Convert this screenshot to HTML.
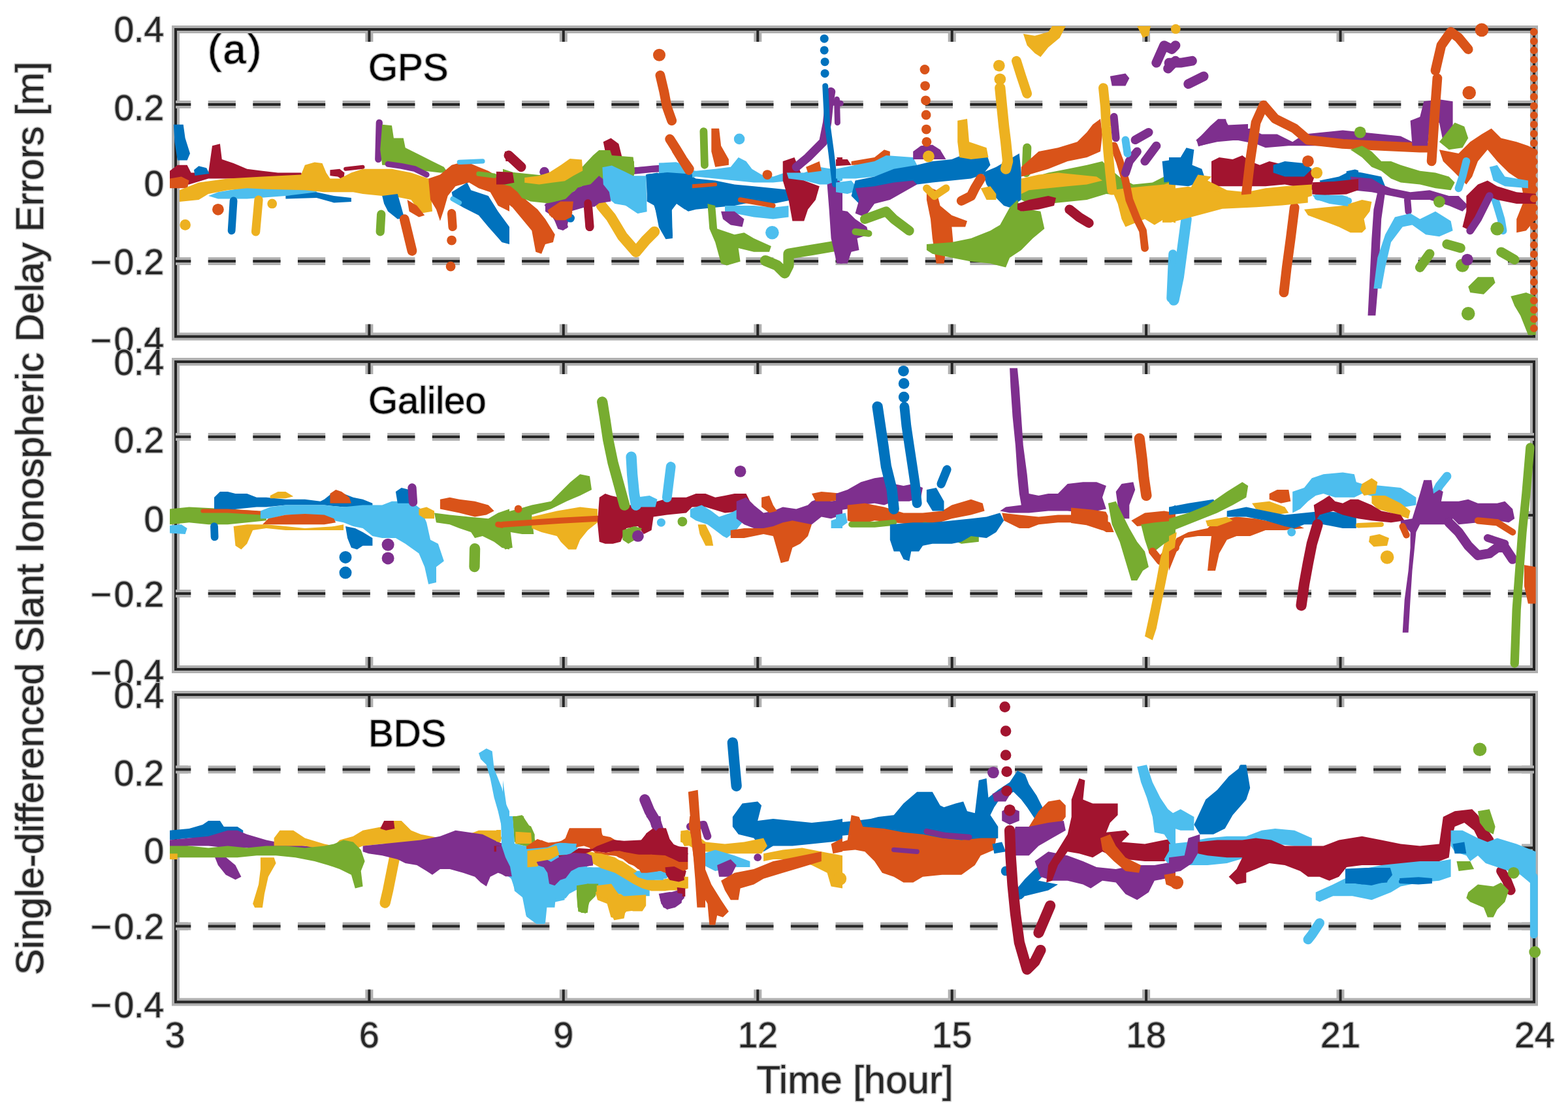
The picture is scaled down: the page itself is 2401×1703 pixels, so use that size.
<!DOCTYPE html>
<html><head><meta charset="utf-8"><title>Single-differenced Slant Ionospheric Delay Errors</title>
<style>
html,body{margin:0;padding:0;background:#fff;width:2401px;height:1703px;overflow:hidden}
svg{display:block}
text{font-family:"Liberation Sans",Arial,Helvetica,sans-serif;paint-order:stroke;stroke:#bdbdbd;stroke-width:3px;stroke-linejoin:round}
.tk{font-size:55px;fill:#262626}
.lb{font-size:60px;fill:#262626}
.pl{font-size:58px;fill:#000}
.pa{font-size:63px;fill:#000;letter-spacing:2.6px}
.yl{letter-spacing:-0.27px}
</style></head><body>
<svg width="2401" height="1703" viewBox="0 0 2401 1703">
<rect width="100%" height="100%" fill="#ffffff"/>
<defs>
<clipPath id="cp0"><rect x="259" y="35" width="2100" height="490.4"/></clipPath>
<clipPath id="cp1"><rect x="259" y="544" width="2100" height="491"/></clipPath>
<clipPath id="cp2"><rect x="259" y="1054" width="2100" height="490.5"/></clipPath>
</defs>
<rect x="269" y="45" width="2080" height="470.4" fill="none" stroke="#b0b0b0" stroke-width="12"/>
<path d="M565.4 45.0L565.4 64.0 M565.4 515.4L565.4 496.4 M862.8 45.0L862.8 64.0 M862.8 515.4L862.8 496.4 M1160.3 45.0L1160.3 64.0 M1160.3 515.4L1160.3 496.4 M1457.7 45.0L1457.7 64.0 M1457.7 515.4L1457.7 496.4 M1755.1 45.0L1755.1 64.0 M1755.1 515.4L1755.1 496.4 M2052.5 45.0L2052.5 64.0 M2052.5 515.4L2052.5 496.4 M269.0 160.0L288.0 160.0 M2349.0 160.0L2330.0 160.0 M269.0 280.0L288.0 280.0 M2349.0 280.0L2330.0 280.0 M269.0 400.0L288.0 400.0 M2349.0 400.0L2330.0 400.0" stroke="#b0b0b0" stroke-width="12" fill="none"/>
<rect x="269" y="45" width="2080" height="470.4" fill="none" stroke="#262626" stroke-width="4"/>
<path d="M565.4 45.0L565.4 64.0 M565.4 515.4L565.4 496.4 M862.8 45.0L862.8 64.0 M862.8 515.4L862.8 496.4 M1160.3 45.0L1160.3 64.0 M1160.3 515.4L1160.3 496.4 M1457.7 45.0L1457.7 64.0 M1457.7 515.4L1457.7 496.4 M1755.1 45.0L1755.1 64.0 M1755.1 515.4L1755.1 496.4 M2052.5 45.0L2052.5 64.0 M2052.5 515.4L2052.5 496.4 M269.0 160.0L288.0 160.0 M2349.0 160.0L2330.0 160.0 M269.0 280.0L288.0 280.0 M2349.0 280.0L2330.0 280.0 M269.0 400.0L288.0 400.0 M2349.0 400.0L2330.0 400.0" stroke="#262626" stroke-width="4" fill="none"/>
<line x1="269" y1="160.0" x2="2349" y2="160.0" stroke="#b0b0b0" stroke-width="12" stroke-dasharray="42.2 26.43" stroke-dashoffset="18.93"/>
<line x1="269" y1="160.0" x2="2349" y2="160.0" stroke="#262626" stroke-width="4" stroke-dasharray="42.2 26.43" stroke-dashoffset="18.93"/>
<line x1="269" y1="400.0" x2="2349" y2="400.0" stroke="#b0b0b0" stroke-width="12" stroke-dasharray="42.2 26.43" stroke-dashoffset="18.93"/>
<line x1="269" y1="400.0" x2="2349" y2="400.0" stroke="#262626" stroke-width="4" stroke-dasharray="42.2 26.43" stroke-dashoffset="18.93"/>
<g clip-path="url(#cp0)"><polygon points="265.9,190.7 280.7,190.7 283.6,211.4 291.0,235.1 286.6,245.4 271.8,245.4 267.4,217.3" fill="#0072BD"/><polygon points="260.0,261.7 271.8,252.8 286.6,252.8 292.5,264.6 298.4,264.6 319.1,264.6 325.0,223.3 336.9,220.3 339.8,243.9 348.7,246.9 357.6,249.9 378.2,258.7 401.9,261.7 425.5,264.6 461.0,264.6 464.0,270.5 425.5,273.5 378.2,273.5 319.1,273.5 289.6,282.4 260.0,285.3" fill="#A2142F"/><polygon points="505.4,260.2 520.1,258.7 527.5,264.6 526.1,276.5 517.2,270.5 505.4,269.1" fill="#A2142F"/><polyline points="529.0,258.7 555.6,255.8" fill="none" stroke="#A2142F" stroke-width="5.9" stroke-linecap="round" stroke-linejoin="round"/><polygon points="759.6,267.6 771.4,264.6 780.0,267.6 780.0,279.4 762.6,279.4" fill="#A2142F"/><polygon points="772.9,232.1 780.0,232.1 780.0,246.9 774.4,246.9" fill="#A2142F"/><polygon points="260.0,273.5 277.7,270.5 289.6,276.5 286.6,288.3 260.0,288.3" fill="#D95319"/><polygon points="297.0,260.2 304.3,254.3 316.2,257.2 320.6,266.1 298.4,269.1" fill="#0072BD"/><polygon points="319.1,300.1 333.9,294.2 378.2,286.8 437.4,288.3 484.7,291.2 484.7,297.1 437.4,300.1 378.2,304.5 333.9,304.5" fill="#4DBEEE"/><polygon points="437.4,300.1 484.7,294.2 511.3,300.1 537.9,303.1 537.9,309.0 511.3,310.4 484.7,303.1 437.4,304.5" fill="#0072BD"/><polygon points="274.8,291.2 304.3,279.4 348.7,273.5 401.9,270.5 461.0,267.6 466.9,252.8 481.7,248.4 493.5,249.9 499.5,264.6 505.4,273.5 520.1,273.5 526.1,270.5 537.9,264.6 555.6,258.7 585.2,258.7 600.0,258.7 629.5,264.6 656.1,273.5 659.1,285.3 662.0,323.7 644.3,326.7 629.5,306.0 600.0,300.1 585.2,300.1 555.6,297.1 540.8,294.2 496.5,294.2 466.9,291.2 407.8,289.8 378.2,288.3 348.7,291.2 319.1,297.1 304.3,306.0 274.8,309.0" fill="#EDB120"/><polyline points="357.6,307.5 354.6,353.3" fill="none" stroke="#0072BD" stroke-width="11.8" stroke-linecap="round" stroke-linejoin="round"/><circle cx="333.9" cy="320.8" r="8.9" fill="#D95319"/><circle cx="283.6" cy="344.4" r="8.3" fill="#EDB120"/><polyline points="396.0,306.0 391.6,354.8" fill="none" stroke="#EDB120" stroke-width="13.3" stroke-linecap="round" stroke-linejoin="round"/><circle cx="416.7" cy="311.9" r="7.4" fill="#EDB120"/><polyline points="580.8,187.8 579.3,243.9" fill="none" stroke="#7E2F8E" stroke-width="10.3" stroke-linecap="round" stroke-linejoin="round"/><polygon points="585.2,190.7 600.0,192.2 602.9,211.4 617.7,211.4 620.7,226.2 644.3,238.0 662.0,246.9 679.8,255.8 685.7,264.6 673.9,264.6 650.2,261.7 629.5,258.7 600.0,252.8 585.2,252.8 582.2,229.2" fill="#77AC30"/><polyline points="594.1,251.3 614.7,254.3 635.4,258.7 653.2,267.6" fill="none" stroke="#7E2F8E" stroke-width="8.9" stroke-linecap="round" stroke-linejoin="round"/><polyline points="583.7,328.2 582.2,354.8" fill="none" stroke="#77AC30" stroke-width="13.3" stroke-linecap="round" stroke-linejoin="round"/><polygon points="585.2,300.1 608.8,297.1 614.7,317.8 619.2,334.1 608.8,335.6 594.1,323.7 588.1,311.9" fill="#0072BD"/><polyline points="619.2,335.6 631.0,384.3" fill="none" stroke="#D95319" stroke-width="14.8" stroke-linecap="round" stroke-linejoin="round"/><polygon points="623.6,306.0 638.4,314.9 650.2,329.7 641.4,332.6 626.6,323.7" fill="#D95319"/><polygon points="656.1,273.5 673.9,267.6 691.6,252.8 712.3,246.9 733.0,255.8 747.8,261.7 762.6,270.5 780.0,270.5 780.0,323.7 762.6,314.9 750.7,294.2 733.0,288.3 718.2,279.4 697.5,285.3 685.7,300.1 679.8,320.8 673.9,338.5 668.0,320.8 659.1,306.0" fill="#D95319"/><polyline points="691.6,326.7 693.1,347.4" fill="none" stroke="#D95319" stroke-width="13.3" stroke-linecap="round" stroke-linejoin="round"/><circle cx="691.6" cy="368.1" r="7.4" fill="#D95319"/><circle cx="690.1" cy="408.0" r="7.4" fill="#D95319"/><polygon points="691.6,294.2 715.3,279.4 721.2,291.2 747.8,300.1 762.6,323.7 780.0,347.4 780.0,374.0 768.5,371.0 747.8,347.4 733.0,329.7 709.3,317.8 694.6,309.0" fill="#0072BD"/><polyline points="703.4,248.4 738.9,246.9" fill="none" stroke="#4DBEEE" stroke-width="7.4" stroke-linecap="round" stroke-linejoin="round"/><polyline points="693.1,304.5 703.4,310.4" fill="none" stroke="#4DBEEE" stroke-width="7.4" stroke-linecap="round" stroke-linejoin="round"/><polyline points="733.0,266.1 756.6,269.1" fill="none" stroke="#77AC30" stroke-width="7.4" stroke-linecap="round" stroke-linejoin="round"/><polygon points="770.0,276.5 787.7,282.4 805.5,306.0 823.2,320.8 835.0,335.6 849.8,359.2 846.9,371.0 835.0,374.0 829.1,388.8 820.3,385.8 814.3,353.3 799.6,335.6 784.8,317.8 770.0,306.0" fill="#D95319"/><polyline points="778.9,238.0 798.1,255.8" fill="none" stroke="#A2142F" stroke-width="14.8" stroke-linecap="round" stroke-linejoin="round"/><polygon points="770.0,269.1 781.8,270.5 781.8,279.4 770.0,280.9" fill="#A2142F"/><polygon points="770.0,258.7 787.7,264.6 814.3,276.5 843.9,282.4 873.5,270.5 903.0,246.9 917.8,232.1 935.5,229.2 953.3,241.0 971.0,246.9 971.0,264.6 959.2,276.5 935.5,264.6 917.8,258.7 903.0,270.5 888.2,288.3 858.7,303.1 829.1,306.0 799.6,300.1 781.8,285.3 770.0,282.4" fill="#77AC30"/><polygon points="814.3,273.5 843.9,267.6 867.6,252.8 882.3,243.9 891.2,249.9 888.2,264.6 867.6,273.5 843.9,279.4 814.3,282.4" fill="#EDB120"/><circle cx="833.6" cy="263.2" r="7.4" fill="#7E2F8E"/><polygon points="835.0,311.9 858.7,303.1 882.3,291.2 903.0,276.5 917.8,267.6 935.5,282.4 935.5,306.0 911.9,311.9 894.2,317.8 873.5,323.7 867.6,350.3 855.7,347.4 843.9,329.7 835.0,323.7" fill="#7E2F8E"/><polygon points="840.9,320.8 852.8,311.9 873.5,309.0 876.4,326.7 858.7,335.6 843.9,332.6" fill="#D95319"/><circle cx="873.5" cy="334.1" r="6.5" fill="#0072BD"/><polyline points="900.1,311.9 903.0,347.4" fill="none" stroke="#A2142F" stroke-width="13.3" stroke-linecap="round" stroke-linejoin="round"/><polygon points="923.7,217.3 935.5,211.4 947.4,220.3 953.3,243.9 935.5,246.9 926.7,232.1" fill="#A2142F"/><polyline points="920.8,314.9 935.5,332.6 953.3,362.2 974.0,385.8 988.8,368.1 1002.1,354.8" fill="none" stroke="#EDB120" stroke-width="16.3" stroke-linecap="round" stroke-linejoin="round"/><polygon points="923.7,258.7 947.4,261.7 965.1,273.5 982.8,270.5 988.8,276.5 988.8,323.7 976.9,326.7 959.2,314.9 941.5,311.9 923.7,297.1" fill="#4DBEEE"/><polyline points="971.0,261.7 1000.6,258.7 1021.3,257.2" fill="none" stroke="#7E2F8E" stroke-width="10.3" stroke-linecap="round" stroke-linejoin="round"/><polygon points="988.8,267.6 1006.5,264.6 1021.3,273.5 1036.1,267.6 1050.8,264.6 1065.6,273.5 1095.2,276.5 1124.7,282.4 1154.3,285.3 1183.9,288.3 1213.4,291.2 1213.4,306.0 1183.9,311.9 1154.3,309.0 1124.7,314.9 1095.2,317.8 1065.6,320.8 1053.8,323.7 1036.1,311.9 1027.2,323.7 1030.1,362.2 1021.3,365.1 1015.4,347.4 1006.5,329.7 1000.6,311.9 991.7,306.0" fill="#0072BD"/><polygon points="1018.3,258.7 1030.1,249.9 1047.9,258.7 1065.6,261.7 1095.2,258.7 1118.8,255.8 1130.7,241.0 1142.5,246.9 1151.4,258.7 1166.1,267.6 1183.9,270.5 1201.6,264.6 1213.4,270.5 1213.4,276.5 1183.9,279.4 1154.3,279.4 1124.7,276.5 1095.2,273.5 1065.6,270.5 1053.8,273.5 1036.1,270.5 1018.3,270.5" fill="#4DBEEE"/><circle cx="1132.1" cy="212.9" r="8.3" fill="#4DBEEE"/><polygon points="1110.0,314.9 1154.3,314.9 1183.9,317.8 1207.5,314.9 1207.5,332.6 1183.9,335.6 1154.3,332.6 1124.7,326.7 1110.0,323.7" fill="#4DBEEE"/><circle cx="1182.4" cy="356.3" r="10.3" fill="#4DBEEE"/><polyline points="1077.4,201.1 1078.9,252.8" fill="none" stroke="#77AC30" stroke-width="11.8" stroke-linecap="round" stroke-linejoin="round"/><polygon points="1089.3,196.7 1101.1,196.7 1104.1,223.3 1115.9,243.9 1115.9,252.8 1095.2,255.8 1089.3,232.1" fill="#D95319"/><polyline points="1059.7,285.3 1095.2,282.4" fill="none" stroke="#D95319" stroke-width="5.9" stroke-linecap="round" stroke-linejoin="round"/><polyline points="1133.6,306.0 1183.9,314.9" fill="none" stroke="#D95319" stroke-width="7.4" stroke-linecap="round" stroke-linejoin="round"/><polygon points="1083.4,311.9 1095.2,314.9 1098.1,350.3 1124.7,359.2 1139.5,356.3 1154.3,365.1 1180.9,376.9 1178.0,385.8 1154.3,385.8 1130.7,379.9 1133.6,400.6 1112.9,406.5 1104.1,403.5 1095.2,371.0 1086.3,350.3" fill="#77AC30"/><polyline points="1172.0,399.1 1189.8,406.5 1201.6,418.3 1207.5,406.5 1207.5,388.8 1243.0,382.9 1278.5,376.9" fill="none" stroke="#77AC30" stroke-width="16.3" stroke-linecap="round" stroke-linejoin="round"/><polygon points="1104.1,323.7 1124.7,323.7 1139.5,335.6 1136.6,347.4 1118.8,344.4 1107.0,335.6" fill="#7E2F8E"/><polygon points="1198.7,246.9 1216.4,241.0 1231.2,276.5 1254.8,285.3 1248.9,306.0 1237.1,320.8 1231.2,338.5 1213.4,338.5 1207.5,306.0 1198.7,276.5" fill="#A2142F"/><polygon points="1281.4,241.0 1290.0,241.0 1290.0,252.8 1282.9,252.8" fill="#A2142F"/><polygon points="1204.6,264.6 1231.2,264.6 1254.8,255.8 1272.6,258.7 1290.0,258.7 1290.0,276.5 1272.6,282.4 1254.8,282.4 1231.2,276.5 1207.5,273.5" fill="#4DBEEE"/><polygon points="1234.1,255.8 1254.8,246.9 1257.8,261.7 1237.1,264.6" fill="#D95319"/><circle cx="1175.0" cy="267.6" r="7.4" fill="#D95319"/><polyline points="1219.3,255.8 1237.1,241.0 1260.7,217.3 1266.6,187.8 1269.6,158.2 1272.6,140.5" fill="none" stroke="#7E2F8E" stroke-width="13.3" stroke-linecap="round" stroke-linejoin="round"/><polygon points="1266.6,282.4 1284.4,276.5 1290.0,282.4 1290.0,403.5 1281.4,403.5 1272.6,365.1 1269.6,320.8" fill="#7E2F8E"/><polyline points="1272.6,156.7 1287.3,158.2" fill="none" stroke="#7E2F8E" stroke-width="8.9" stroke-linecap="round" stroke-linejoin="round"/><circle cx="1262.2" cy="59.2" r="6.5" fill="#0072BD"/><circle cx="1262.2" cy="76.9" r="6.5" fill="#0072BD"/><circle cx="1263.1" cy="94.7" r="6.5" fill="#0072BD"/><circle cx="1263.1" cy="112.4" r="6.5" fill="#0072BD"/><polyline points="1263.7,131.6 1266.6,187.8 1272.6,232.1 1278.5,282.4" fill="none" stroke="#0072BD" stroke-width="8.9" stroke-linecap="round" stroke-linejoin="round"/><circle cx="1009.5" cy="84.3" r="9.5" fill="#D95319"/><polyline points="1010.9,115.4 1016.8,140.5 1021.3,164.1 1028.7,184.8" fill="none" stroke="#D95319" stroke-width="14.8" stroke-linecap="round" stroke-linejoin="round"/><polyline points="1025.7,212.9 1036.1,229.2 1044.9,243.9 1055.3,258.7" fill="none" stroke="#D95319" stroke-width="14.8" stroke-linecap="round" stroke-linejoin="round"/><polygon points="1303.6,246.9 1339.1,241.0 1353.9,229.2 1362.8,232.1 1362.8,246.9 1339.1,252.8 1303.6,252.8" fill="#D95319"/><polygon points="1280.0,243.9 1297.7,243.9 1303.6,252.8 1280.0,254.3" fill="#A2142F"/><polygon points="1280.0,258.7 1309.6,252.8 1339.1,246.9 1356.9,238.0 1398.2,241.0 1404.2,252.8 1368.7,261.7 1339.1,270.5 1309.6,273.5 1280.0,273.5" fill="#4DBEEE"/><polygon points="1280.0,279.4 1303.6,276.5 1315.5,291.2 1297.7,297.1 1280.0,294.2" fill="#4DBEEE"/><polygon points="1309.6,276.5 1339.1,270.5 1368.7,258.7 1404.2,252.8 1427.8,246.9 1457.4,243.9 1486.9,232.1 1510.6,235.1 1516.5,252.8 1504.7,267.6 1486.9,273.5 1457.4,276.5 1427.8,279.4 1404.2,282.4 1383.5,285.3 1353.9,288.3 1333.2,297.1 1315.5,311.9 1303.6,300.1" fill="#0072BD"/><polygon points="1504.7,264.6 1525.4,255.8 1560.8,235.1 1563.8,264.6 1563.8,306.0 1546.1,317.8 1537.2,314.9 1522.4,300.1 1510.6,282.4" fill="#0072BD"/><polygon points="1309.6,288.3 1339.1,285.3 1368.7,279.4 1398.2,276.5 1404.2,282.4 1383.5,294.2 1362.8,306.0 1339.1,311.9 1324.3,332.6 1309.6,326.7 1315.5,306.0" fill="#7E2F8E"/><polygon points="1280.0,320.8 1297.7,323.7 1309.6,335.6 1327.3,347.4 1330.3,359.2 1312.5,365.1 1315.5,382.9 1303.6,385.8 1297.7,403.5 1285.9,403.5 1280.0,379.9" fill="#7E2F8E"/><polyline points="1281.5,152.3 1282.4,187.8" fill="none" stroke="#7E2F8E" stroke-width="8.9" stroke-linecap="round" stroke-linejoin="round"/><polyline points="1324.3,335.6 1356.9,323.7 1368.7,335.6 1392.3,353.3" fill="none" stroke="#77AC30" stroke-width="14.8" stroke-linecap="round" stroke-linejoin="round"/><polyline points="1309.6,354.8 1330.3,357.7" fill="none" stroke="#77AC30" stroke-width="10.3" stroke-linecap="round" stroke-linejoin="round"/><polygon points="1398.2,232.1 1410.1,223.3 1427.8,221.8 1439.6,229.2 1448.5,243.9 1398.2,243.9" fill="#7E2F8E"/><circle cx="1421.9" cy="239.5" r="8.9" fill="#EDB120"/><circle cx="1416.0" cy="106.5" r="7.4" fill="#D95319"/><circle cx="1416.6" cy="131.6" r="7.4" fill="#D95319"/><circle cx="1417.5" cy="153.8" r="7.4" fill="#D95319"/><circle cx="1418.1" cy="176.0" r="7.4" fill="#D95319"/><circle cx="1418.4" cy="198.1" r="7.4" fill="#D95319"/><circle cx="1418.9" cy="217.3" r="7.4" fill="#D95319"/><polygon points="1418.9,285.3 1433.7,291.2 1439.6,314.9 1457.4,329.7 1481.0,338.5 1478.1,347.4 1457.4,347.4 1460.3,379.9 1448.5,382.9 1445.5,403.5 1433.7,403.5 1427.8,365.1 1424.9,335.6 1418.9,306.0" fill="#D95319"/><polyline points="1418.9,288.3 1430.8,300.1 1448.5,288.3" fill="none" stroke="#EDB120" stroke-width="11.8" stroke-linecap="round" stroke-linejoin="round"/><polygon points="1466.2,184.8 1481.0,181.9 1484.0,217.3 1510.6,226.2 1513.5,241.0 1486.9,243.9 1469.2,241.0 1466.2,217.3" fill="#EDB120"/><polyline points="1472.2,307.5 1486.9,300.1 1492.8,288.3 1501.7,273.5" fill="none" stroke="#D95319" stroke-width="14.8" stroke-linecap="round" stroke-linejoin="round"/><polygon points="1501.7,288.3 1516.5,285.3 1525.4,297.1 1525.4,306.0 1510.6,306.0" fill="#EDB120"/><polygon points="1418.9,374.0 1457.4,371.0 1486.9,365.1 1516.5,353.3 1531.3,344.4 1546.1,317.8 1557.9,306.0 1563.8,323.7 1575.6,320.8 1593.4,323.7 1599.3,350.3 1581.5,365.1 1563.8,382.9 1546.1,394.7 1540.1,409.5 1516.5,403.5 1486.9,400.6 1457.4,394.7 1427.8,388.8 1418.9,382.9" fill="#77AC30"/><circle cx="1529.8" cy="100.6" r="8.9" fill="#EDB120"/><circle cx="1531.3" cy="121.3" r="8.9" fill="#EDB120"/><polyline points="1531.3,134.6 1534.2,164.1 1537.2,193.7 1540.1,217.3 1543.1,246.9 1540.1,258.7" fill="none" stroke="#EDB120" stroke-width="16.3" stroke-linecap="round" stroke-linejoin="round"/><polyline points="1556.4,93.2 1563.8,116.8 1572.7,143.4" fill="none" stroke="#EDB120" stroke-width="14.8" stroke-linecap="round" stroke-linejoin="round"/><polygon points="1566.8,51.8 1584.5,54.8 1605.2,48.9 1611.1,40.0 1631.8,40.0 1622.9,57.7 1605.2,72.5 1593.4,87.3 1584.5,81.4 1572.7,69.6" fill="#EDB120"/><polygon points="1741.2,40.0 1761.9,40.0 1758.9,54.8 1750.0,57.7" fill="#EDB120"/><polyline points="1572.7,226.2 1571.2,264.6" fill="none" stroke="#77AC30" stroke-width="13.3" stroke-linecap="round" stroke-linejoin="round"/><polygon points="1563.8,255.8 1590.4,232.1 1620.0,226.2 1649.5,217.3 1664.3,202.6 1673.2,190.7 1685.0,181.9 1688.0,205.5 1685.0,232.1 1664.3,241.0 1634.7,246.9 1605.2,258.7 1575.6,267.6 1563.8,270.5" fill="#D95319"/><polygon points="1563.8,276.5 1605.2,264.6 1634.7,258.7 1664.3,252.8 1688.0,246.9 1699.8,258.7 1717.5,273.5 1735.3,282.4 1764.8,279.4 1782.6,270.5 1800.0,264.6 1800.0,291.2 1782.6,294.2 1753.0,297.1 1723.4,300.1 1693.9,297.1 1664.3,306.0 1634.7,309.0 1605.2,311.9 1575.6,311.9 1563.8,306.0" fill="#77AC30"/><polygon points="1563.8,273.5 1590.4,267.6 1620.0,264.6 1649.5,267.6 1679.1,270.5 1688.0,276.5 1664.3,282.4 1634.7,285.3 1605.2,288.3 1575.6,291.2 1563.8,297.1" fill="#EDB120"/><polygon points="1557.9,311.9 1575.6,306.0 1605.2,300.1 1617.0,303.1 1614.1,314.9 1590.4,320.8 1563.8,323.7 1557.9,320.8" fill="#A2142F"/><polyline points="1637.7,320.8 1652.5,332.6 1667.3,341.5" fill="none" stroke="#A2142F" stroke-width="14.8" stroke-linecap="round" stroke-linejoin="round"/><polygon points="1702.7,291.2 1723.4,288.3 1753.0,285.3 1782.6,282.4 1800.0,276.5 1800.0,341.5 1782.6,335.6 1767.8,344.4 1753.0,335.6 1738.2,341.5 1723.4,347.4 1717.5,335.6 1711.6,311.9" fill="#EDB120"/><polyline points="1705.7,223.3 1714.6,246.9 1723.4,276.5 1729.3,306.0 1741.2,335.6 1750.0,353.3 1753.0,379.9" fill="none" stroke="#D95319" stroke-width="11.8" stroke-linecap="round" stroke-linejoin="round"/><polyline points="1689.4,134.6 1692.4,164.1 1693.9,193.7 1696.8,232.1 1699.8,264.6 1702.7,291.2" fill="none" stroke="#EDB120" stroke-width="14.8" stroke-linecap="round" stroke-linejoin="round"/><polygon points="1699.8,116.8 1723.4,112.4 1729.3,119.8 1723.4,131.6 1702.7,131.6" fill="#7E2F8E"/><polyline points="1770.7,96.2 1782.6,69.6 1794.4,75.5 1800.0,69.6" fill="none" stroke="#7E2F8E" stroke-width="14.8" stroke-linecap="round" stroke-linejoin="round"/><polyline points="1788.5,105.0 1800.0,93.2" fill="none" stroke="#7E2F8E" stroke-width="14.8" stroke-linecap="round" stroke-linejoin="round"/><polyline points="1705.7,178.9 1708.7,211.4" fill="none" stroke="#7E2F8E" stroke-width="11.8" stroke-linecap="round" stroke-linejoin="round"/><polyline points="1738.2,214.4 1758.9,202.6" fill="none" stroke="#7E2F8E" stroke-width="13.3" stroke-linecap="round" stroke-linejoin="round"/><polyline points="1723.4,264.6 1729.3,246.9 1741.2,232.1" fill="none" stroke="#7E2F8E" stroke-width="13.3" stroke-linecap="round" stroke-linejoin="round"/><polyline points="1753.0,246.9 1770.7,223.3" fill="none" stroke="#7E2F8E" stroke-width="13.3" stroke-linecap="round" stroke-linejoin="round"/><polyline points="1723.4,214.4 1726.4,235.1" fill="none" stroke="#4DBEEE" stroke-width="11.8" stroke-linecap="round" stroke-linejoin="round"/><polygon points="1779.6,246.9 1800.0,243.9 1800.0,276.5 1782.6,279.4" fill="#0072BD"/><polyline points="1795.9,388.8 1792.9,456.7" fill="none" stroke="#4DBEEE" stroke-width="13.3" stroke-linecap="round" stroke-linejoin="round"/><polyline points="1790.0,96.2 1807.7,96.2 1825.5,93.2" fill="none" stroke="#7E2F8E" stroke-width="14.8" stroke-linecap="round" stroke-linejoin="round"/><polyline points="1819.6,128.7 1843.2,116.8" fill="none" stroke="#7E2F8E" stroke-width="14.8" stroke-linecap="round" stroke-linejoin="round"/><polygon points="1831.4,214.4 1849.1,199.6 1866.9,184.8 1878.7,187.8 1884.6,199.6 1914.2,196.7 1931.9,205.5 1955.6,205.5 1979.2,217.3 1997.0,205.5 2056.1,199.6 2085.6,202.6 2115.2,205.5 2144.8,208.5 2162.5,217.3 2159.6,223.3 2115.2,223.3 2056.1,223.3 1997.0,223.3 1973.3,223.3 1937.8,226.2 1923.0,220.3 1893.5,214.4 1863.9,217.3 1837.3,223.3" fill="#7E2F8E"/><polygon points="1790.0,241.0 1807.7,241.0 1816.6,226.2 1828.4,229.2 1825.5,252.8 1840.3,258.7 1846.2,276.5 1819.6,285.3 1790.0,282.4" fill="#0072BD"/><polygon points="1855.0,246.9 1866.9,241.0 1887.6,243.9 1902.3,238.0 1914.2,246.9 1929.0,252.8 1943.7,246.9 1967.4,252.8 1997.0,252.8 2014.7,264.6 2008.8,282.4 2026.5,288.3 2056.1,282.4 2070.9,276.5 2067.9,294.2 2026.5,294.2 1997.0,288.3 1967.4,282.4 1937.8,285.3 1908.3,285.3 1878.7,285.3 1855.0,285.3" fill="#A2142F"/><polygon points="1949.6,252.8 1967.4,246.9 1997.0,249.9 2008.8,258.7 1997.0,270.5 1967.4,270.5 1949.6,264.6" fill="#0072BD"/><polygon points="1790.0,300.1 1819.6,294.2 1834.3,267.6 1855.0,270.5 1849.1,276.5 1878.7,291.2 1908.3,294.2 1937.8,288.3 1967.4,285.3 2008.8,282.4 2008.8,300.1 1967.4,311.9 1937.8,311.9 1908.3,317.8 1878.7,317.8 1849.1,320.8 1819.6,329.7 1790.0,335.6" fill="#EDB120"/><polygon points="1997.0,320.8 2026.5,317.8 2056.1,314.9 2085.6,306.0 2100.4,309.0 2097.5,323.7 2088.6,335.6 2091.6,350.3 2085.6,356.3 2067.9,356.3 2050.2,347.4 2026.5,338.5 2002.9,329.7" fill="#EDB120"/><circle cx="2016.2" cy="264.6" r="8.9" fill="#EDB120"/><polyline points="1816.6,335.6 1810.7,379.9 1804.8,424.2 1797.4,459.7" fill="none" stroke="#4DBEEE" stroke-width="16.3" stroke-linecap="round" stroke-linejoin="round"/><polyline points="2017.6,301.6 2064.9,307.5" fill="none" stroke="#4DBEEE" stroke-width="10.3" stroke-linecap="round" stroke-linejoin="round"/><polygon points="2020.6,276.5 2050.2,270.5 2067.9,261.7 2085.6,264.6 2115.2,270.5 2121.1,285.3 2085.6,291.2 2056.1,294.2 2026.5,291.2" fill="#0072BD"/><polyline points="1908.3,297.1 1914.2,246.9 1923.0,187.8 1934.9,161.2 1952.6,181.9 1982.2,196.7 2002.9,214.4 2056.1,220.3 2115.2,223.3 2174.3,226.2 2186.2,226.2" fill="none" stroke="#D95319" stroke-width="14.8" stroke-linecap="round" stroke-linejoin="round"/><polygon points="2067.9,229.2 2085.6,223.3 2100.4,232.1 2115.2,246.9 2130.0,246.9 2144.8,252.8 2174.3,261.7 2198.0,264.6 2218.7,270.5 2227.6,279.4 2221.6,291.2 2198.0,288.3 2174.3,282.4 2144.8,279.4 2130.0,273.5 2115.2,261.7 2100.4,255.8 2085.6,241.0" fill="#77AC30"/><circle cx="2082.7" cy="202.6" r="8.9" fill="#77AC30"/><polygon points="2067.9,270.5 2100.4,273.5 2115.2,282.4 2130.0,288.3 2159.6,294.2 2189.1,291.2 2218.7,300.1 2233.5,300.1 2248.2,314.9 2239.4,323.7 2218.7,314.9 2189.1,306.0 2159.6,306.0 2130.0,300.1 2100.4,294.2 2070.9,291.2" fill="#7E2F8E"/><polygon points="2109.3,294.2 2121.1,294.2 2115.2,335.6 2112.3,394.7 2109.3,447.9 2106.3,483.3 2094.5,483.3 2097.5,424.2 2100.4,365.1 2103.4,320.8" fill="#7E2F8E"/><polyline points="2155.1,306.0 2156.6,323.7" fill="none" stroke="#7E2F8E" stroke-width="10.3" stroke-linecap="round" stroke-linejoin="round"/><polygon points="2159.6,184.8 2174.3,178.9 2180.2,155.3 2203.9,152.3 2224.6,155.3 2224.6,217.3 2209.8,217.3 2203.9,187.8 2189.1,193.7 2186.2,223.3 2162.5,223.3" fill="#7E2F8E"/><polyline points="2200.9,119.8 2198.0,158.2 2195.0,202.6 2192.1,246.9" fill="none" stroke="#D95319" stroke-width="14.8" stroke-linecap="round" stroke-linejoin="round"/><polyline points="2198.0,108.0 2206.9,69.6 2221.6,48.9 2233.5,57.7 2248.2,75.5" fill="none" stroke="#D95319" stroke-width="14.8" stroke-linecap="round" stroke-linejoin="round"/><circle cx="2249.7" cy="142.0" r="10.3" fill="#D95319"/><circle cx="2268.9" cy="45.9" r="10.3" fill="#D95319"/><polygon points="2203.9,217.3 2227.6,187.8 2242.3,193.7 2248.2,211.4 2239.4,226.2 2218.7,229.2" fill="#77AC30"/><polygon points="2203.9,229.2 2233.5,235.1 2251.2,217.3 2268.9,205.5 2283.7,196.7 2298.5,211.4 2322.2,217.3 2339.9,223.3 2351.7,229.2 2351.7,335.6 2336.9,353.3 2322.2,356.3 2322.2,335.6 2334.0,306.0 2328.1,276.5 2310.3,264.6 2292.6,246.9 2277.8,229.2 2263.0,246.9 2254.2,270.5 2245.3,282.4 2227.6,264.6 2209.8,246.9" fill="#D95319"/><circle cx="2203.9" cy="309.0" r="8.9" fill="#77AC30"/><polygon points="2135.9,332.6 2159.6,326.7 2174.3,335.6 2198.0,323.7 2221.6,338.5 2224.6,353.3 2203.9,362.2 2183.2,359.2 2162.5,344.4 2147.7,347.4 2130.0,371.0 2121.1,409.5 2115.2,442.0 2103.4,442.0 2109.3,394.7 2121.1,359.2" fill="#4DBEEE"/><polyline points="2245.3,246.9 2239.4,270.5 2233.5,288.3" fill="none" stroke="#4DBEEE" stroke-width="11.8" stroke-linecap="round" stroke-linejoin="round"/><polygon points="2280.8,255.8 2292.6,252.8 2304.4,270.5 2339.9,276.5 2339.9,288.3 2304.4,285.3 2286.7,276.5" fill="#4DBEEE"/><polyline points="2289.6,306.0 2298.5,335.6 2301.5,353.3" fill="none" stroke="#4DBEEE" stroke-width="11.8" stroke-linecap="round" stroke-linejoin="round"/><polygon points="2245.3,300.1 2263.0,282.4 2277.8,276.5 2292.6,285.3 2322.2,294.2 2351.7,297.1 2351.7,311.9 2322.2,311.9 2292.6,306.0 2277.8,300.1 2268.9,320.8 2257.1,335.6 2251.2,353.3 2239.4,347.4 2245.3,323.7" fill="#A2142F"/><polyline points="2251.2,353.3 2263.0,335.6 2274.9,311.9 2280.8,300.1" fill="none" stroke="#7E2F8E" stroke-width="11.8" stroke-linecap="round" stroke-linejoin="round"/><polyline points="1982.2,317.8 1976.3,365.1 1970.3,409.5 1965.9,447.9" fill="none" stroke="#D95319" stroke-width="14.8" stroke-linecap="round" stroke-linejoin="round"/><circle cx="2002.9" cy="246.9" r="8.9" fill="#D95319"/><polyline points="2174.3,409.5 2189.1,388.8" fill="none" stroke="#77AC30" stroke-width="14.8" stroke-linecap="round" stroke-linejoin="round"/><polyline points="2215.7,374.0 2236.4,379.9" fill="none" stroke="#77AC30" stroke-width="14.8" stroke-linecap="round" stroke-linejoin="round"/><circle cx="2239.4" cy="406.5" r="10.3" fill="#77AC30"/><polygon points="2248.2,439.0 2263.0,424.2 2286.7,424.2 2289.6,433.1 2271.9,450.8 2251.2,447.9" fill="#77AC30"/><circle cx="2248.2" cy="480.4" r="10.3" fill="#77AC30"/><polygon points="2313.3,453.8 2336.9,447.9 2351.7,453.8 2351.7,512.9 2339.9,512.9 2328.1,483.3 2319.2,468.6" fill="#77AC30"/><polyline points="2298.5,385.8 2319.2,397.6" fill="none" stroke="#77AC30" stroke-width="14.8" stroke-linecap="round" stroke-linejoin="round"/><circle cx="2292.6" cy="350.3" r="10.3" fill="#77AC30"/><circle cx="2246.8" cy="397.6" r="8.9" fill="#7E2F8E"/><circle cx="1800.3" cy="44.4" r="7.4" fill="#EDB120"/><circle cx="2348.8" cy="48.9" r="5.9" fill="#D95319"/><circle cx="2348.8" cy="63.1" r="5.9" fill="#D95319"/><circle cx="2348.8" cy="77.2" r="5.9" fill="#D95319"/><circle cx="2348.8" cy="91.4" r="5.9" fill="#D95319"/><circle cx="2348.8" cy="105.6" r="5.9" fill="#D95319"/><circle cx="2348.8" cy="119.8" r="5.9" fill="#D95319"/><circle cx="2348.8" cy="134.0" r="5.9" fill="#D95319"/><circle cx="2348.8" cy="148.2" r="5.9" fill="#D95319"/><circle cx="2348.8" cy="162.4" r="5.9" fill="#D95319"/><circle cx="2348.8" cy="176.6" r="5.9" fill="#D95319"/><circle cx="2348.8" cy="190.7" r="5.9" fill="#D95319"/><circle cx="2348.8" cy="204.9" r="5.9" fill="#D95319"/><circle cx="2348.8" cy="219.1" r="5.9" fill="#D95319"/><circle cx="2348.8" cy="233.3" r="5.9" fill="#D95319"/><circle cx="2348.8" cy="247.5" r="5.9" fill="#D95319"/><circle cx="2348.8" cy="261.7" r="5.9" fill="#D95319"/><circle cx="2348.8" cy="275.9" r="5.9" fill="#D95319"/><circle cx="2348.8" cy="290.0" r="5.9" fill="#D95319"/><circle cx="2348.8" cy="304.2" r="5.9" fill="#D95319"/><circle cx="2348.8" cy="318.4" r="5.9" fill="#D95319"/><circle cx="2348.8" cy="332.6" r="5.9" fill="#D95319"/><circle cx="2348.8" cy="346.8" r="5.9" fill="#D95319"/><circle cx="2348.8" cy="361.0" r="5.9" fill="#D95319"/><circle cx="2348.8" cy="375.2" r="5.9" fill="#D95319"/><circle cx="2348.8" cy="389.4" r="5.9" fill="#D95319"/><circle cx="2348.8" cy="403.5" r="5.9" fill="#D95319"/><circle cx="2348.8" cy="417.7" r="5.9" fill="#D95319"/><circle cx="2348.8" cy="431.9" r="5.9" fill="#D95319"/><circle cx="2348.8" cy="446.1" r="5.9" fill="#D95319"/><circle cx="2348.8" cy="460.3" r="5.9" fill="#D95319"/><circle cx="2348.8" cy="474.5" r="5.9" fill="#D95319"/><circle cx="2348.8" cy="488.7" r="5.9" fill="#D95319"/><circle cx="2348.8" cy="502.9" r="5.9" fill="#D95319"/><polygon points="2009.3,279.2 2042.0,277.9 2068.2,275.3 2080.0,273.9 2080.0,291.0 2061.7,297.5 2028.9,298.8 2009.3,297.5" fill="#A2142F"/><polygon points="2009.3,298.8 2055.1,298.8 2064.3,301.5 2064.3,315.9 2035.5,311.9 2015.8,305.4" fill="#4DBEEE"/><polygon points="2061.7,262.2 2074.8,259.5 2080.0,260.9 2080.0,270.0 2061.7,270.0" fill="#0072BD"/><polygon points="1832.4,215.0 1853.4,192.7 1865.2,182.3 1876.9,182.3 1879.6,191.4 1911.0,190.1 1911.0,215.0 1884.8,215.0 1865.2,209.8 1858.6,217.6 1835.0,224.2" fill="#7E2F8E"/><polygon points="1780.0,291.0 1819.3,285.7 1845.5,291.0 1897.9,298.8 1924.1,296.2 1989.6,285.7 2002.7,291.0 2002.7,310.6 1963.4,314.6 1924.1,317.2 1871.7,319.8 1832.4,330.3 1793.1,340.7 1780.0,340.7" fill="#EDB120"/><polygon points="760.0,262.7 784.9,264.1 787.5,279.8 773.1,282.4 760.0,282.4" fill="#A2142F"/><polygon points="786.2,264.1 825.5,268.0 858.3,262.7 891.0,256.2 908.0,237.9 917.2,230.0 934.2,230.0 936.9,237.9 969.6,240.5 972.2,262.7 969.6,273.2 930.3,269.3 917.2,279.8 891.0,285.0 877.9,292.9 864.8,306.0 838.6,311.2 812.4,308.6 799.3,303.3 788.8,288.9" fill="#77AC30"/><polygon points="803.2,271.9 825.5,269.3 841.2,264.1 859.6,252.3 872.7,243.1 891.0,244.4 892.3,261.4 877.9,269.3 864.8,277.2 845.2,279.8 825.5,282.4 803.2,279.8" fill="#EDB120"/><polygon points="833.4,313.8 851.7,308.6 871.4,303.3 884.5,287.6 904.1,282.4 917.2,269.3 930.3,279.8 935.5,308.6 917.2,311.2 910.7,316.4 877.9,319.1 871.4,311.2 859.6,313.8 851.7,321.7 838.6,321.7" fill="#7E2F8E"/><polygon points="838.6,321.7 858.3,308.6 877.9,308.6 875.3,332.2 864.8,337.4 851.7,337.4 841.2,329.5" fill="#D95319"/><polygon points="849.1,337.4 867.4,337.4 870.0,347.9 862.2,353.1 854.3,350.5" fill="#7E2F8E"/><polygon points="922.4,256.2 936.9,253.6 956.5,262.7 969.6,269.3 989.3,269.3 990.6,324.3 976.2,326.9 956.5,313.8 940.8,311.2 934.2,295.5 923.8,282.4" fill="#4DBEEE"/><polygon points="972.2,256.2 1022.0,253.6 1060.0,256.2 1060.0,262.7 972.2,264.1" fill="#7E2F8E"/><polygon points="1008.9,249.6 1035.1,248.3 1060.0,256.2 1060.0,279.8 1022.0,279.8 1008.9,269.3" fill="#4DBEEE"/><polygon points="990.6,266.7 1022.0,264.1 1060.0,266.7 1060.0,321.7 1048.2,320.4 1035.1,311.2 1028.6,313.8 1029.9,364.9 1019.4,366.2 1008.9,347.9 1002.4,315.1 990.6,308.6" fill="#0072BD"/><polyline points="900.2,311.2 902.8,347.9" fill="none" stroke="#A2142F" stroke-width="11.8" stroke-linecap="round" stroke-linejoin="round"/><polyline points="1035.1,230.0 1054.8,261.4" fill="none" stroke="#D95319" stroke-width="13.1" stroke-linecap="round" stroke-linejoin="round"/></g>
<text x="251" y="64.2" text-anchor="end" class="tk">0.4</text>
<text x="251" y="184.2" text-anchor="end" class="tk">0.2</text>
<text x="251" y="299.7" text-anchor="end" class="tk">0</text>
<text x="251" y="419.7" text-anchor="end" class="tk"><tspan>−</tspan><tspan dx="4">0.2</tspan></text>
<text x="251" y="539.7" text-anchor="end" class="tk"><tspan>−</tspan><tspan dx="4">0.4</tspan></text>
<rect x="269" y="554" width="2080" height="471" fill="none" stroke="#b0b0b0" stroke-width="12"/>
<path d="M565.4 554.0L565.4 573.0 M565.4 1025.0L565.4 1006.0 M862.8 554.0L862.8 573.0 M862.8 1025.0L862.8 1006.0 M1160.3 554.0L1160.3 573.0 M1160.3 1025.0L1160.3 1006.0 M1457.7 554.0L1457.7 573.0 M1457.7 1025.0L1457.7 1006.0 M1755.1 554.0L1755.1 573.0 M1755.1 1025.0L1755.1 1006.0 M2052.5 554.0L2052.5 573.0 M2052.5 1025.0L2052.5 1006.0 M269.0 669.0L288.0 669.0 M2349.0 669.0L2330.0 669.0 M269.0 789.0L288.0 789.0 M2349.0 789.0L2330.0 789.0 M269.0 909.0L288.0 909.0 M2349.0 909.0L2330.0 909.0" stroke="#b0b0b0" stroke-width="12" fill="none"/>
<rect x="269" y="554" width="2080" height="471" fill="none" stroke="#262626" stroke-width="4"/>
<path d="M565.4 554.0L565.4 573.0 M565.4 1025.0L565.4 1006.0 M862.8 554.0L862.8 573.0 M862.8 1025.0L862.8 1006.0 M1160.3 554.0L1160.3 573.0 M1160.3 1025.0L1160.3 1006.0 M1457.7 554.0L1457.7 573.0 M1457.7 1025.0L1457.7 1006.0 M1755.1 554.0L1755.1 573.0 M1755.1 1025.0L1755.1 1006.0 M2052.5 554.0L2052.5 573.0 M2052.5 1025.0L2052.5 1006.0 M269.0 669.0L288.0 669.0 M2349.0 669.0L2330.0 669.0 M269.0 789.0L288.0 789.0 M2349.0 789.0L2330.0 789.0 M269.0 909.0L288.0 909.0 M2349.0 909.0L2330.0 909.0" stroke="#262626" stroke-width="4" fill="none"/>
<line x1="269" y1="669.0" x2="2349" y2="669.0" stroke="#b0b0b0" stroke-width="12" stroke-dasharray="42.2 26.43" stroke-dashoffset="18.93"/>
<line x1="269" y1="669.0" x2="2349" y2="669.0" stroke="#262626" stroke-width="4" stroke-dasharray="42.2 26.43" stroke-dashoffset="18.93"/>
<line x1="269" y1="909.0" x2="2349" y2="909.0" stroke="#b0b0b0" stroke-width="12" stroke-dasharray="42.2 26.43" stroke-dashoffset="18.93"/>
<line x1="269" y1="909.0" x2="2349" y2="909.0" stroke="#262626" stroke-width="4" stroke-dasharray="42.2 26.43" stroke-dashoffset="18.93"/>
<g clip-path="url(#cp1)"><polygon points="260.0,779.5 289.6,776.6 319.1,778.1 348.7,779.5 393.0,782.5 407.8,785.5 407.8,797.3 378.2,800.2 348.7,803.2 319.1,803.2 289.6,800.2 260.0,803.2" fill="#77AC30"/><polygon points="260.0,804.7 277.7,803.2 286.6,809.1 283.6,818.0 260.0,816.5" fill="#4DBEEE"/><polygon points="328.0,761.8 336.9,752.9 348.7,752.9 360.5,755.9 378.2,755.9 393.0,761.8 407.8,761.8 437.4,764.8 466.9,764.8 490.6,767.7 496.5,764.8 511.3,752.9 526.1,755.9 540.8,761.8 555.6,764.8 570.4,770.7 570.4,776.6 526.1,776.6 496.5,773.6 466.9,773.6 437.4,773.6 407.8,776.6 393.0,776.6 363.5,779.5 342.8,782.5 328.0,782.5" fill="#0072BD"/><polyline points="328.0,806.1 328.6,822.4" fill="none" stroke="#0072BD" stroke-width="11.8" stroke-linecap="round" stroke-linejoin="round"/><polyline points="310.3,782.5 348.7,782.5 398.9,785.5" fill="none" stroke="#D95319" stroke-width="5.9" stroke-linecap="round" stroke-linejoin="round"/><polygon points="413.7,758.9 425.5,752.9 437.4,752.9 449.2,760.3 437.4,763.3 413.7,763.3" fill="#EDB120"/><polygon points="398.9,782.5 413.7,776.6 437.4,773.6 466.9,773.6 496.5,773.6 526.1,776.6 555.6,773.6 585.2,773.6 600.0,767.7 629.5,767.7 644.3,779.5 653.2,800.2 659.1,826.8 670.9,832.7 679.8,859.3 668.0,868.2 668.0,891.9 656.1,894.8 650.2,868.2 641.4,847.5 620.7,832.7 605.9,823.9 585.2,823.9 570.4,820.9 555.6,809.1 540.8,806.1 526.1,800.2 511.3,797.3 496.5,794.3 466.9,788.4 437.4,788.4 413.7,794.3 398.9,794.3" fill="#4DBEEE"/><polygon points="410.8,794.3 437.4,788.4 466.9,786.9 496.5,788.4 511.3,794.3 514.2,800.2 496.5,803.2 466.9,803.2 437.4,803.2 413.7,803.2 401.9,803.2" fill="#D95319"/><polygon points="505.4,755.9 514.2,750.0 523.1,752.9 534.9,761.8 537.9,770.7 505.4,770.7" fill="#D95319"/><polygon points="357.6,806.1 378.2,803.2 407.8,803.2 437.4,806.1 466.9,809.1 511.3,806.1 526.1,803.2 526.1,812.1 496.5,812.1 466.9,812.1 437.4,812.1 407.8,809.1 387.1,812.1 378.2,832.7 369.4,841.6 360.5,835.7" fill="#EDB120"/><polygon points="529.0,806.1 543.8,809.1 555.6,815.0 570.4,823.9 570.4,835.7 555.6,835.7 546.8,841.6 537.9,838.7 532.0,823.9" fill="#0072BD"/><circle cx="529.0" cy="853.4" r="9.5" fill="#0072BD"/><circle cx="529.0" cy="877.1" r="9.5" fill="#0072BD"/><circle cx="594.1" cy="834.2" r="9.5" fill="#7E2F8E"/><circle cx="594.1" cy="854.9" r="9.5" fill="#7E2F8E"/><polygon points="605.9,752.9 614.7,747.0 626.6,750.0 629.5,770.7 608.8,770.7" fill="#0072BD"/><polyline points="631.0,747.0 632.5,769.2" fill="none" stroke="#7E2F8E" stroke-width="13.3" stroke-linecap="round" stroke-linejoin="round"/><polygon points="641.4,779.5 653.2,776.6 665.0,782.5 665.0,794.3 650.2,794.3 641.4,788.4" fill="#EDB120"/><polygon points="665.0,785.5 688.7,788.4 718.2,791.4 747.8,794.3 762.6,785.5 780.0,779.5 780.0,841.6 768.5,838.7 756.6,829.8 738.9,820.9 727.1,823.9 721.2,815.0 703.4,809.1 688.7,803.2 668.0,800.2" fill="#77AC30"/><polyline points="727.1,840.1 726.5,868.2" fill="none" stroke="#77AC30" stroke-width="16.3" stroke-linecap="round" stroke-linejoin="round"/><polygon points="673.9,764.8 688.7,761.8 703.4,764.8 727.1,767.7 747.8,773.6 756.6,782.5 744.8,788.4 727.1,791.4 703.4,785.5 688.7,782.5 673.9,779.5" fill="#D95319"/><polyline points="762.6,803.2 780.0,806.1" fill="none" stroke="#D95319" stroke-width="8.9" stroke-linecap="round" stroke-linejoin="round"/><polygon points="770.0,785.5 793.6,779.5 814.3,773.6 843.9,767.7 858.7,752.9 873.5,738.2 888.2,726.3 903.0,729.3 906.0,750.0 888.2,758.9 867.6,767.7 843.9,779.5 814.3,788.4 817.3,818.0 799.6,818.0 781.8,815.0 784.8,838.7 773.0,841.6 770.0,826.8" fill="#77AC30"/><polygon points="814.3,791.4 852.8,782.5 888.2,776.6 914.9,779.5 914.9,800.2 900.1,812.1 888.2,826.8 882.3,841.6 870.5,841.6 858.7,829.8 852.8,820.9 829.1,815.0 814.3,809.1" fill="#EDB120"/><polyline points="770.0,803.2 814.3,800.2 858.7,797.3 914.9,794.3" fill="none" stroke="#D95319" stroke-width="8.9" stroke-linecap="round" stroke-linejoin="round"/><circle cx="793.6" cy="779.5" r="5.9" fill="#D95319"/><polygon points="917.8,761.8 926.7,755.9 935.5,758.9 947.4,761.8 962.2,773.6 976.9,773.6 1006.5,767.7 1027.2,761.8 1050.8,761.8 1065.6,755.9 1080.4,755.9 1095.2,761.8 1110.0,758.9 1124.7,755.9 1142.5,755.9 1148.4,767.7 1154.3,773.6 1139.5,782.5 1110.0,785.5 1080.4,776.6 1059.7,776.6 1050.8,785.5 1021.3,788.4 1000.6,791.4 997.6,812.1 985.8,818.0 976.9,806.1 959.2,809.1 950.3,829.8 938.5,832.7 926.7,832.7 917.8,829.8 914.9,800.2" fill="#A2142F"/><polyline points="922.2,615.5 926.7,643.6 931.1,673.1 938.5,708.6 947.4,741.1 956.2,773.6" fill="none" stroke="#77AC30" stroke-width="16.3" stroke-linecap="round" stroke-linejoin="round"/><polyline points="966.6,699.7 968.1,726.3 971.0,755.9 974.0,773.6" fill="none" stroke="#4DBEEE" stroke-width="16.3" stroke-linecap="round" stroke-linejoin="round"/><polyline points="1027.2,714.5 1024.2,738.2 1021.3,761.8" fill="none" stroke="#4DBEEE" stroke-width="14.8" stroke-linecap="round" stroke-linejoin="round"/><polygon points="974.0,761.8 994.7,758.9 1006.5,764.8 1003.5,776.6 976.9,776.6" fill="#4DBEEE"/><circle cx="1012.4" cy="800.2" r="6.5" fill="#4DBEEE"/><polygon points="953.3,812.1 971.0,806.1 982.8,809.1 976.9,823.9 962.2,832.7 953.3,826.8" fill="#77AC30"/><circle cx="1044.9" cy="798.8" r="7.4" fill="#77AC30"/><circle cx="976.9" cy="820.9" r="8.9" fill="#7E2F8E"/><polygon points="1056.8,779.5 1074.5,773.6 1089.3,782.5 1101.1,791.4 1118.8,785.5 1130.7,779.5 1136.6,800.2 1124.7,815.0 1112.9,823.9 1107.0,820.9 1095.2,812.1 1083.4,803.2 1065.6,797.3 1056.8,791.4" fill="#4DBEEE"/><polygon points="1068.6,803.2 1080.4,803.2 1089.3,820.9 1092.2,835.7 1080.4,835.7 1071.5,818.0" fill="#EDB120"/><polygon points="1127.7,767.7 1142.5,761.8 1154.3,773.6 1169.1,785.5 1183.9,782.5 1198.7,776.6 1219.3,779.5 1237.1,773.6 1243.0,767.7 1257.8,761.8 1272.6,767.7 1290.0,764.8 1290.0,788.4 1272.6,794.3 1257.8,791.4 1243.0,803.2 1228.2,803.2 1213.4,803.2 1198.7,806.1 1183.9,809.1 1169.1,815.0 1154.3,809.1 1139.5,803.2 1127.7,794.3" fill="#7E2F8E"/><polygon points="1243.0,755.9 1257.8,752.9 1290.0,755.9 1290.0,764.8 1272.6,767.7 1248.9,767.7" fill="#D95319"/><polygon points="1166.1,761.8 1178.0,758.9 1183.9,773.6 1189.8,782.5 1178.0,785.5 1166.1,776.6" fill="#D95319"/><polygon points="1118.8,812.1 1139.5,809.1 1169.1,809.1 1183.9,806.1 1198.7,800.2 1213.4,797.3 1228.2,800.2 1243.0,803.2 1237.1,820.9 1225.3,832.7 1213.4,838.7 1207.5,859.3 1195.7,862.3 1189.8,841.6 1183.9,820.9 1169.1,818.0 1139.5,823.9 1118.8,823.9" fill="#D95319"/><circle cx="1133.6" cy="721.9" r="8.9" fill="#7E2F8E"/><polygon points="1272.6,797.3 1290.0,791.4 1290.0,809.1 1272.6,809.1" fill="#4DBEEE"/><polygon points="1280.0,755.9 1297.7,750.0 1318.4,738.2 1339.1,732.3 1359.8,729.3 1368.7,741.1 1383.5,744.1 1398.2,741.1 1413.0,747.0 1410.1,761.8 1392.3,767.7 1368.7,767.7 1353.9,773.6 1339.1,770.7 1315.5,773.6 1297.7,779.5 1280.0,782.5" fill="#7E2F8E"/><polygon points="1280.0,788.4 1294.8,785.5 1297.7,800.2 1285.9,809.1 1280.0,809.1" fill="#4DBEEE"/><polygon points="1297.7,773.6 1324.3,770.7 1353.9,776.6 1383.5,785.5 1413.0,785.5 1442.6,782.5 1457.4,773.6 1486.9,764.8 1504.7,770.7 1507.6,782.5 1486.9,788.4 1457.4,794.3 1427.8,803.2 1398.2,803.2 1368.7,800.2 1339.1,797.3 1315.5,803.2 1297.7,797.3" fill="#D95319"/><polyline points="1303.6,803.2 1339.1,803.2 1368.7,800.2" fill="none" stroke="#77AC30" stroke-width="8.9" stroke-linecap="round" stroke-linejoin="round"/><polygon points="1457.4,826.8 1481.0,812.1 1498.8,815.0 1498.8,829.8 1472.2,832.7" fill="#77AC30"/><polyline points="1416.0,803.2 1463.3,809.1" fill="none" stroke="#77AC30" stroke-width="7.4" stroke-linecap="round" stroke-linejoin="round"/><polyline points="1343.6,622.9 1348.0,652.4 1352.4,682.0 1356.9,714.5 1365.7,750.0 1368.7,779.5" fill="none" stroke="#0072BD" stroke-width="16.3" stroke-linecap="round" stroke-linejoin="round"/><circle cx="1383.5" cy="568.2" r="8.3" fill="#0072BD"/><circle cx="1384.1" cy="587.4" r="8.3" fill="#0072BD"/><circle cx="1384.1" cy="608.1" r="8.3" fill="#0072BD"/><polyline points="1384.9,622.9 1387.9,652.4 1392.3,682.0 1396.8,711.6 1401.2,741.1 1404.2,770.7" fill="none" stroke="#0072BD" stroke-width="14.8" stroke-linecap="round" stroke-linejoin="round"/><polyline points="1450.0,719.0 1441.1,741.1" fill="none" stroke="#0072BD" stroke-width="13.3" stroke-linecap="round" stroke-linejoin="round"/><polygon points="1418.9,750.0 1433.7,747.0 1445.5,767.7 1445.5,782.5 1427.8,782.5 1418.9,767.7" fill="#0072BD"/><polygon points="1362.8,803.2 1398.2,800.2 1427.8,800.2 1457.4,797.3 1486.9,794.3 1510.6,791.4 1531.3,785.5 1537.2,797.3 1525.4,815.0 1510.6,823.9 1486.9,820.9 1472.2,829.8 1457.4,832.7 1427.8,832.7 1413.0,835.7 1407.1,844.6 1395.3,844.6 1392.3,859.3 1383.5,856.4 1377.6,844.6 1368.7,844.6 1362.8,826.8" fill="#0072BD"/><polygon points="1546.1,563.8 1557.9,563.8 1560.8,593.3 1563.8,637.7 1566.8,682.0 1572.7,726.3 1575.6,755.9 1590.4,758.9 1605.2,755.9 1620.0,755.9 1634.7,741.1 1658.4,738.2 1679.1,738.2 1693.9,744.1 1688.0,761.8 1693.9,779.5 1679.1,782.5 1664.3,785.5 1634.7,782.5 1605.2,782.5 1575.6,785.5 1546.1,785.5 1531.3,782.5 1540.1,776.6 1563.8,773.6 1560.8,755.9 1557.9,726.3 1554.9,682.0 1550.5,637.7 1547.5,593.3" fill="#7E2F8E"/><polygon points="1708.7,752.9 1717.5,741.1 1735.3,738.2 1738.2,750.0 1729.3,773.6 1729.3,794.3 1717.5,794.3 1711.6,773.6" fill="#7E2F8E"/><polygon points="1534.2,785.5 1560.8,788.4 1590.4,791.4 1620.0,788.4 1649.5,788.4 1679.1,791.4 1699.8,800.2 1705.7,815.0 1693.9,815.0 1679.1,806.1 1649.5,800.2 1620.0,800.2 1590.4,803.2 1575.6,809.1 1560.8,809.1 1537.2,797.3" fill="#D95319"/><polyline points="1744.7,671.7 1748.6,702.7 1751.5,732.3 1755.4,758.9" fill="none" stroke="#D95319" stroke-width="16.3" stroke-linecap="round" stroke-linejoin="round"/><polygon points="1732.3,797.3 1753.0,785.5 1782.6,782.5 1800.0,785.5 1800.0,800.2 1767.8,803.2 1741.2,806.1" fill="#D95319"/><polygon points="1696.8,770.7 1708.7,767.7 1717.5,785.5 1729.3,809.1 1741.2,829.8 1753.0,844.6 1758.9,868.2 1750.0,874.1 1741.2,888.9 1732.3,888.9 1723.4,859.3 1714.6,829.8 1702.7,803.2" fill="#77AC30"/><polygon points="1747.1,803.2 1767.8,800.2 1800.0,797.3 1800.0,832.7 1782.6,832.7 1767.8,844.6 1758.9,844.6 1753.0,826.8" fill="#77AC30"/><polyline points="1764.8,844.6 1776.6,859.3 1788.5,844.6 1800.0,838.7" fill="none" stroke="#D95319" stroke-width="11.8" stroke-linecap="round" stroke-linejoin="round"/><polygon points="1782.6,832.7 1797.3,823.9 1800.0,832.7 1788.5,874.1 1779.6,918.5 1770.7,962.8 1764.8,980.5 1753.0,974.6 1761.9,933.2 1770.7,888.9 1776.6,856.4" fill="#EDB120"/><polygon points="1794.4,776.6 1800.0,773.6 1800.0,785.5 1795.9,785.5" fill="#0072BD"/><polygon points="1790.0,776.6 1819.6,770.7 1858.0,764.8 1863.9,773.6 1849.1,782.5 1819.6,785.5 1790.0,788.4" fill="#0072BD"/><polygon points="1790.0,844.6 1801.8,823.9 1819.6,815.0 1849.1,809.1 1861.0,797.3 1893.5,791.4 1923.0,794.3 1952.6,800.2 1973.3,806.1 1991.0,806.1 1997.0,809.1 1967.4,812.1 1937.8,812.1 1914.2,820.9 1893.5,820.9 1878.7,826.8 1866.9,847.5 1861.0,874.1 1849.1,874.1 1852.1,844.6 1855.0,820.9 1834.3,820.9 1813.7,823.9 1801.8,844.6 1790.0,874.1" fill="#D95319"/><polygon points="1790.0,794.3 1819.6,785.5 1849.1,773.6 1878.7,752.9 1902.3,738.2 1911.2,744.1 1908.3,761.8 1887.6,773.6 1863.9,785.5 1834.3,797.3 1804.8,809.1 1790.0,815.0" fill="#77AC30"/><polygon points="1790.0,820.9 1801.8,815.0 1798.9,838.7 1790.0,844.6" fill="#EDB120"/><polygon points="1846.2,797.3 1878.7,791.4 1887.6,797.3 1863.9,806.1 1849.1,806.1" fill="#EDB120"/><polygon points="1917.1,770.7 1943.7,767.7 1967.4,776.6 1973.3,785.5 1952.6,788.4 1923.0,779.5" fill="#EDB120"/><polygon points="1943.7,755.9 1955.6,750.0 1973.3,750.0 1976.3,767.7 1961.5,770.7 1943.7,764.8" fill="#D95319"/><polygon points="1878.7,782.5 1908.3,776.6 1937.8,782.5 1967.4,788.4 1997.0,785.5 2026.5,782.5 2056.1,785.5 2076.8,788.4 2076.8,809.1 2056.1,809.1 2026.5,803.2 1997.0,803.2 1982.2,809.1 1967.4,806.1 1937.8,797.3 1908.3,791.4 1878.7,791.4" fill="#0072BD"/><polygon points="1979.2,752.9 1997.0,747.0 2008.8,732.3 2026.5,726.3 2056.1,723.4 2073.8,726.3 2076.8,738.2 2085.6,741.1 2115.2,744.1 2144.8,747.0 2159.6,755.9 2168.4,761.8 2168.4,773.6 2150.7,776.6 2130.0,767.7 2109.3,761.8 2085.6,755.9 2073.8,761.8 2056.1,761.8 2044.3,761.8 2026.5,755.9 2014.7,758.9 2002.9,767.7 1991.0,779.5 1979.2,785.5 1979.2,767.7" fill="#4DBEEE"/><polyline points="2215.7,729.3 2203.9,744.1 2198.0,755.9" fill="none" stroke="#4DBEEE" stroke-width="13.3" stroke-linecap="round" stroke-linejoin="round"/><circle cx="1977.7" cy="815.0" r="6.5" fill="#4DBEEE"/><polygon points="2085.6,741.1 2100.4,732.3 2109.3,738.2 2106.3,755.9 2088.6,758.9 2082.7,750.0" fill="#EDB120"/><polygon points="2100.4,758.9 2121.1,758.9 2144.8,770.7 2159.6,782.5 2156.6,794.3 2130.0,785.5 2109.3,779.5 2100.4,770.7" fill="#EDB120"/><polygon points="2097.5,820.9 2112.3,818.0 2127.0,823.9 2124.1,835.7 2103.4,837.2 2096.0,829.8" fill="#EDB120"/><circle cx="2124.1" cy="853.4" r="10.3" fill="#EDB120"/><polygon points="2011.7,773.6 2026.5,764.8 2035.4,758.9 2044.3,767.7 2056.1,770.7 2067.9,764.8 2079.7,764.8 2100.4,773.6 2115.2,782.5 2144.8,788.4 2150.7,797.3 2130.0,800.2 2100.4,797.3 2079.7,794.3 2056.1,788.4 2041.3,782.5 2020.6,788.4 2014.7,797.3" fill="#A2142F"/><polyline points="2017.6,803.2 2008.8,832.7 2002.9,862.3 1997.0,894.8 1992.5,927.3" fill="none" stroke="#A2142F" stroke-width="16.3" stroke-linecap="round" stroke-linejoin="round"/><polyline points="2079.7,804.7 2115.2,803.2" fill="none" stroke="#EDB120" stroke-width="7.4" stroke-linecap="round" stroke-linejoin="round"/><polygon points="2144.8,797.3 2162.5,794.3 2174.3,755.9 2180.2,735.2 2192.1,735.2 2195.0,755.9 2203.9,750.0 2209.8,752.9 2206.9,767.7 2233.5,767.7 2248.2,764.8 2263.0,770.7 2292.6,770.7 2304.4,767.7 2316.2,779.5 2319.2,794.3 2310.3,800.2 2292.6,797.3 2263.0,800.2 2233.5,803.2 2224.6,794.3 2215.7,803.2 2203.9,803.2 2189.1,803.2 2174.3,803.2 2168.4,815.0 2165.5,844.6 2162.5,874.1 2159.6,918.5 2156.6,968.7 2147.7,968.7 2150.7,918.5 2156.6,874.1 2159.6,838.7 2159.6,815.0 2153.6,809.1 2144.8,806.1" fill="#7E2F8E"/><polyline points="2218.7,800.2 2233.5,815.0 2248.2,835.7 2263.0,850.5 2280.8,847.5 2292.6,838.7 2304.4,838.7 2316.2,856.4" fill="none" stroke="#7E2F8E" stroke-width="14.8" stroke-linecap="round" stroke-linejoin="round"/><polyline points="2277.8,823.9 2304.4,832.7" fill="none" stroke="#7E2F8E" stroke-width="11.8" stroke-linecap="round" stroke-linejoin="round"/><polyline points="2263.0,797.3 2292.6,800.2 2316.2,815.0" fill="none" stroke="#D95319" stroke-width="10.3" stroke-linecap="round" stroke-linejoin="round"/><polyline points="2147.7,806.1 2153.6,819.4" fill="none" stroke="#D95319" stroke-width="10.3" stroke-linecap="round" stroke-linejoin="round"/><polyline points="2342.9,685.0 2336.9,755.9 2331.0,815.0 2326.6,874.1 2322.2,933.2 2319.2,1016.0" fill="none" stroke="#77AC30" stroke-width="13.3" stroke-linecap="round" stroke-linejoin="round"/><polygon points="2334.0,865.3 2351.7,868.2 2351.7,924.4 2339.9,924.4 2334.0,897.8" fill="#D95319"/><polygon points="1640.0,777.4 1671.4,780.6 1693.4,783.7 1696.6,790.0 1696.6,813.6 1687.2,812.0 1663.6,804.2 1640.0,801.0" fill="#D95319"/></g>
<text x="251" y="573.7" text-anchor="end" class="tk">0.4</text>
<text x="251" y="693.1" text-anchor="end" class="tk">0.2</text>
<text x="251" y="813.7" text-anchor="end" class="tk">0</text>
<text x="251" y="928.7" text-anchor="end" class="tk"><tspan>−</tspan><tspan dx="4">0.2</tspan></text>
<text x="251" y="1048.7" text-anchor="end" class="tk"><tspan>−</tspan><tspan dx="4">0.4</tspan></text>
<rect x="269" y="1064" width="2080" height="470.5" fill="none" stroke="#b0b0b0" stroke-width="12"/>
<path d="M565.4 1064.0L565.4 1083.0 M565.4 1534.5L565.4 1515.5 M862.8 1064.0L862.8 1083.0 M862.8 1534.5L862.8 1515.5 M1160.3 1064.0L1160.3 1083.0 M1160.3 1534.5L1160.3 1515.5 M1457.7 1064.0L1457.7 1083.0 M1457.7 1534.5L1457.7 1515.5 M1755.1 1064.0L1755.1 1083.0 M1755.1 1534.5L1755.1 1515.5 M2052.5 1064.0L2052.5 1083.0 M2052.5 1534.5L2052.5 1515.5 M269.0 1178.6L288.0 1178.6 M2349.0 1178.6L2330.0 1178.6 M269.0 1298.6L288.0 1298.6 M2349.0 1298.6L2330.0 1298.6 M269.0 1418.6L288.0 1418.6 M2349.0 1418.6L2330.0 1418.6" stroke="#b0b0b0" stroke-width="12" fill="none"/>
<rect x="269" y="1064" width="2080" height="470.5" fill="none" stroke="#262626" stroke-width="4"/>
<path d="M565.4 1064.0L565.4 1083.0 M565.4 1534.5L565.4 1515.5 M862.8 1064.0L862.8 1083.0 M862.8 1534.5L862.8 1515.5 M1160.3 1064.0L1160.3 1083.0 M1160.3 1534.5L1160.3 1515.5 M1457.7 1064.0L1457.7 1083.0 M1457.7 1534.5L1457.7 1515.5 M1755.1 1064.0L1755.1 1083.0 M1755.1 1534.5L1755.1 1515.5 M2052.5 1064.0L2052.5 1083.0 M2052.5 1534.5L2052.5 1515.5 M269.0 1178.6L288.0 1178.6 M2349.0 1178.6L2330.0 1178.6 M269.0 1298.6L288.0 1298.6 M2349.0 1298.6L2330.0 1298.6 M269.0 1418.6L288.0 1418.6 M2349.0 1418.6L2330.0 1418.6" stroke="#262626" stroke-width="4" fill="none"/>
<line x1="269" y1="1178.6" x2="2349" y2="1178.6" stroke="#b0b0b0" stroke-width="12" stroke-dasharray="42.2 26.43" stroke-dashoffset="18.93"/>
<line x1="269" y1="1178.6" x2="2349" y2="1178.6" stroke="#262626" stroke-width="4" stroke-dasharray="42.2 26.43" stroke-dashoffset="18.93"/>
<line x1="269" y1="1418.6" x2="2349" y2="1418.6" stroke="#b0b0b0" stroke-width="12" stroke-dasharray="42.2 26.43" stroke-dashoffset="18.93"/>
<line x1="269" y1="1418.6" x2="2349" y2="1418.6" stroke="#262626" stroke-width="4" stroke-dasharray="42.2 26.43" stroke-dashoffset="18.93"/>
<g clip-path="url(#cp2)"><polygon points="260.0,1271.8 289.6,1268.9 310.3,1262.9 319.1,1257.0 336.9,1257.0 342.8,1265.9 363.5,1265.9 372.3,1271.8 372.3,1277.7 348.7,1283.6 319.1,1283.6 289.6,1283.6 260.0,1286.6" fill="#0072BD"/><polygon points="260.0,1286.6 289.6,1283.6 319.1,1280.7 348.7,1271.8 363.5,1271.8 378.2,1277.7 407.8,1286.6 437.4,1292.5 466.9,1295.5 496.5,1298.4 511.3,1301.4 496.5,1310.2 466.9,1313.2 437.4,1310.2 407.8,1304.3 378.2,1298.4 348.7,1298.4 319.1,1295.5 289.6,1295.5 260.0,1298.4" fill="#7E2F8E"/><polygon points="328.0,1310.2 342.8,1310.2 360.5,1325.0 369.4,1342.7 360.5,1347.2 345.7,1339.8 333.9,1325.0" fill="#7E2F8E"/><polygon points="419.6,1283.6 428.5,1271.8 449.2,1271.8 466.9,1283.6 496.5,1292.5 511.3,1295.5 520.1,1286.6 540.8,1280.7 555.6,1271.8 585.2,1265.9 600.0,1257.0 614.7,1257.0 629.5,1271.8 644.3,1277.7 673.9,1283.6 688.7,1283.6 703.4,1283.6 733.0,1271.8 762.6,1271.8 768.5,1283.6 762.6,1295.5 733.0,1295.5 703.4,1295.5 673.9,1295.5 644.3,1295.5 614.7,1292.5 585.2,1292.5 555.6,1295.5 540.8,1301.4 511.3,1304.3 496.5,1301.4 466.9,1295.5 437.4,1295.5 419.6,1295.5" fill="#EDB120"/><polygon points="260.0,1295.5 289.6,1295.5 319.1,1298.4 348.7,1295.5 378.2,1298.4 407.8,1295.5 437.4,1295.5 466.9,1298.4 496.5,1295.5 511.3,1292.5 526.1,1286.6 540.8,1289.5 552.7,1301.4 558.6,1319.1 552.7,1333.9 555.6,1357.5 543.8,1360.5 537.9,1339.8 520.1,1330.9 502.4,1325.0 481.7,1319.1 452.2,1313.2 422.6,1310.2 393.0,1310.2 363.5,1313.2 333.9,1313.2 304.3,1313.2 274.8,1313.2 260.0,1313.2" fill="#77AC30"/><polygon points="260.0,1307.3 271.8,1307.3 271.8,1316.1 260.0,1316.1" fill="#EDB120"/><polygon points="398.9,1313.2 419.6,1313.2 422.6,1322.1 410.8,1342.7 404.9,1369.3 401.9,1390.0 390.1,1390.0 387.1,1384.1 396.0,1354.6 398.9,1330.9" fill="#EDB120"/><polyline points="605.9,1304.3 600.0,1333.9 594.1,1363.4 589.6,1382.6" fill="none" stroke="#EDB120" stroke-width="16.3" stroke-linecap="round" stroke-linejoin="round"/><polygon points="582.2,1268.9 588.1,1257.0 602.9,1257.0 604.4,1268.9 591.1,1271.8" fill="#A2142F"/><polygon points="555.6,1295.5 585.2,1292.5 614.7,1289.5 644.3,1286.6 673.9,1280.7 697.5,1271.8 718.2,1274.8 738.9,1277.7 762.6,1289.5 780.0,1295.5 780.0,1342.7 762.6,1336.8 750.7,1342.7 744.8,1357.5 736.0,1351.6 727.1,1342.7 709.3,1336.8 688.7,1330.9 673.9,1330.9 662.0,1339.8 653.2,1333.9 638.4,1325.0 620.7,1322.1 608.8,1316.1 585.2,1310.2 564.5,1307.3 555.6,1304.3" fill="#7E2F8E"/><polygon points="756.6,1295.5 768.5,1295.5 768.5,1304.3 756.6,1304.3" fill="#A2142F"/><polygon points="733.0,1153.6 744.8,1146.2 753.7,1150.6 756.6,1177.2 768.5,1206.8 774.4,1230.4 780.0,1242.3 780.0,1325.0 774.4,1319.1 771.4,1280.7 762.6,1242.3 756.6,1221.6 750.7,1192.0 744.8,1171.3 736.0,1162.4" fill="#4DBEEE"/><polygon points="770.0,1195.0 775.9,1236.3 781.8,1265.9 787.7,1295.5 793.6,1325.0 799.6,1339.8 829.1,1339.8 852.8,1333.9 873.5,1330.9 903.0,1328.0 932.6,1333.9 962.2,1342.7 976.9,1342.7 994.7,1354.6 994.7,1372.3 976.9,1372.3 947.4,1369.3 917.8,1354.6 888.2,1354.6 864.6,1354.6 864.6,1378.2 838.0,1384.1 835.0,1413.7 823.2,1413.7 805.5,1401.9 799.6,1372.3 787.7,1360.5 781.8,1342.7 775.9,1325.0 770.0,1319.1" fill="#4DBEEE"/><polygon points="855.7,1295.5 870.5,1289.5 885.3,1295.5 882.3,1304.3 858.7,1307.3" fill="#4DBEEE"/><polygon points="784.8,1251.1 799.6,1248.2 811.4,1265.9 820.3,1289.5 805.5,1292.5 787.7,1289.5" fill="#77AC30"/><polygon points="882.3,1354.6 917.8,1351.6 911.9,1372.3 900.1,1384.1 897.1,1398.9 885.3,1395.9" fill="#77AC30"/><polygon points="790.7,1277.7 811.4,1274.8 817.3,1286.6 793.6,1289.5" fill="#EDB120"/><polygon points="805.5,1298.4 829.1,1286.6 840.9,1292.5 864.6,1286.6 870.5,1271.8 888.2,1268.9 917.8,1268.9 923.7,1280.7 941.5,1286.6 959.2,1292.5 976.9,1301.4 1006.5,1310.2 1036.1,1313.2 1050.8,1316.1 1050.8,1330.9 1021.3,1330.9 991.7,1333.9 976.9,1330.9 962.2,1319.1 947.4,1313.2 932.6,1304.3 911.9,1301.4 894.2,1295.5 876.4,1298.4 858.7,1298.4 843.9,1304.3 829.1,1307.3 811.4,1307.3" fill="#D95319"/><polygon points="941.5,1286.6 962.2,1289.5 976.9,1292.5 988.8,1277.7 1000.6,1271.8 1015.4,1271.8 1021.3,1283.6 1030.1,1292.5 1044.9,1298.4 1053.8,1307.3 1047.9,1319.1 1036.1,1316.1 1024.2,1313.2 1006.5,1307.3 991.7,1304.3 976.9,1304.3 959.2,1304.3 941.5,1298.4" fill="#A2142F"/><polygon points="1018.3,1328.0 1036.1,1325.0 1050.8,1333.9 1047.9,1345.7 1024.2,1345.7 1018.3,1336.8" fill="#A2142F"/><polygon points="808.4,1310.2 829.1,1307.3 852.8,1304.3 873.5,1304.3 903.0,1304.3 917.8,1307.3 935.5,1313.2 953.3,1319.1 971.0,1330.9 988.8,1342.7 1006.5,1348.7 1036.1,1342.7 1053.8,1342.7 1053.8,1360.5 1036.1,1363.4 1006.5,1363.4 988.8,1360.5 976.9,1354.6 962.2,1348.7 947.4,1336.8 932.6,1330.9 917.8,1325.0 903.0,1319.1 888.2,1319.1 873.5,1319.1 858.7,1319.1 843.9,1319.1 829.1,1319.1 814.3,1322.1" fill="#EDB120"/><polygon points="911.9,1366.4 935.5,1354.6 947.4,1369.3 959.2,1369.3 976.9,1372.3 988.8,1378.2 982.8,1393.0 959.2,1395.9 947.4,1407.8 935.5,1404.8 929.6,1384.1 914.9,1378.2" fill="#EDB120"/><polyline points="976.9,1338.3 1018.3,1341.3" fill="none" stroke="#4DBEEE" stroke-width="8.9" stroke-linecap="round" stroke-linejoin="round"/><polygon points="1121.8,1251.1 1136.6,1230.4 1160.2,1227.5 1166.1,1233.4 1160.2,1257.0 1183.9,1254.1 1213.4,1257.0 1243.0,1260.0 1272.6,1257.0 1290.0,1254.1 1290.0,1286.6 1272.6,1289.5 1243.0,1292.5 1213.4,1295.5 1183.9,1295.5 1169.1,1304.3 1154.3,1283.6 1130.7,1277.7 1121.8,1265.9" fill="#0072BD"/><polyline points="1121.8,1137.3 1124.7,1171.3 1127.7,1203.8" fill="none" stroke="#0072BD" stroke-width="16.3" stroke-linecap="round" stroke-linejoin="round"/><polygon points="1042.0,1277.7 1053.8,1271.8 1065.6,1277.7 1080.4,1289.5 1110.0,1292.5 1139.5,1289.5 1169.1,1283.6 1175.0,1295.5 1166.1,1307.3 1139.5,1307.3 1110.0,1307.3 1080.4,1304.3 1065.6,1301.4 1050.8,1292.5 1042.0,1289.5" fill="#EDB120"/><polygon points="1169.1,1307.3 1198.7,1301.4 1228.2,1298.4 1257.8,1304.3 1290.0,1310.2 1290.0,1360.5 1272.6,1357.5 1266.6,1336.8 1243.0,1325.0 1213.4,1316.1 1183.9,1316.1 1169.1,1319.1" fill="#EDB120"/><polygon points="1077.4,1307.3 1095.2,1301.4 1124.7,1310.2 1148.4,1319.1 1148.4,1328.0 1124.7,1328.0 1095.2,1333.9 1077.4,1325.0" fill="#4DBEEE"/><polyline points="987.3,1224.5 994.7,1242.3 1003.5,1257.0 1009.5,1274.8" fill="none" stroke="#7E2F8E" stroke-width="16.3" stroke-linecap="round" stroke-linejoin="round"/><polyline points="1056.8,1265.9 1077.4,1262.9 1083.4,1280.7" fill="none" stroke="#7E2F8E" stroke-width="11.8" stroke-linecap="round" stroke-linejoin="round"/><polygon points="770.0,1301.4 778.9,1304.3 781.8,1339.8 770.0,1336.8" fill="#7E2F8E"/><polygon points="820.3,1322.1 838.0,1319.1 858.7,1325.0 867.6,1342.7 858.7,1354.6 843.9,1354.6 832.1,1339.8" fill="#7E2F8E"/><polygon points="867.6,1310.2 888.2,1304.3 906.0,1310.2 906.0,1325.0 882.3,1330.9 870.5,1325.0" fill="#7E2F8E"/><polygon points="1009.5,1369.3 1027.2,1366.4 1047.9,1360.5 1047.9,1375.3 1036.1,1387.1 1021.3,1393.0 1012.4,1384.1" fill="#7E2F8E"/><polygon points="1098.1,1325.0 1118.8,1316.1 1127.7,1325.0 1118.8,1342.7 1101.1,1342.7" fill="#7E2F8E"/><circle cx="1160.2" cy="1313.2" r="5.9" fill="#7E2F8E"/><polygon points="1053.8,1212.7 1068.6,1209.7 1071.5,1251.1 1074.5,1289.5 1077.4,1325.0 1089.3,1354.6 1104.1,1378.2 1115.9,1395.9 1107.0,1404.8 1098.1,1401.9 1095.2,1416.6 1086.3,1416.6 1083.4,1384.1 1074.5,1369.3 1065.6,1339.8 1059.7,1295.5 1056.8,1251.1" fill="#D95319"/><polygon points="1104.1,1348.7 1124.7,1336.8 1154.3,1330.9 1183.9,1319.1 1213.4,1313.2 1243.0,1307.3 1257.8,1304.3 1257.8,1319.1 1228.2,1328.0 1198.7,1336.8 1169.1,1345.7 1154.3,1354.6 1133.6,1360.5 1130.7,1378.2 1118.8,1378.2 1110.0,1363.4" fill="#D95319"/><polygon points="1272.6,1292.5 1290.0,1283.6 1290.0,1304.3 1275.5,1307.3" fill="#D95319"/><polygon points="1280.0,1260.0 1309.6,1257.0 1333.2,1254.1 1345.0,1251.1 1368.7,1248.2 1383.5,1230.4 1404.2,1212.7 1427.8,1212.7 1439.6,1233.4 1445.5,1236.3 1463.3,1230.4 1475.1,1227.5 1481.0,1242.3 1492.8,1245.2 1498.8,1195.0 1510.6,1192.0 1513.5,1221.6 1528.3,1209.7 1546.1,1197.9 1557.9,1180.2 1569.7,1186.1 1575.6,1200.9 1587.4,1218.6 1596.3,1236.3 1593.4,1254.1 1584.5,1254.1 1572.7,1236.3 1563.8,1224.5 1552.0,1212.7 1540.1,1218.6 1528.3,1227.5 1522.4,1236.3 1516.5,1248.2 1528.3,1265.9 1528.3,1283.6 1504.7,1289.5 1486.9,1289.5 1457.4,1289.5 1427.8,1286.6 1398.2,1277.7 1368.7,1274.8 1339.1,1274.8 1309.6,1277.7 1280.0,1280.7" fill="#0072BD"/><polygon points="1280.0,1292.5 1297.7,1286.6 1303.6,1248.2 1315.5,1251.1 1321.4,1265.9 1353.9,1268.9 1383.5,1274.8 1413.0,1277.7 1442.6,1283.6 1472.2,1286.6 1501.7,1283.6 1525.4,1283.6 1522.4,1301.4 1501.7,1310.2 1492.8,1325.0 1472.2,1339.8 1442.6,1339.8 1413.0,1342.7 1398.2,1351.6 1383.5,1351.6 1368.7,1342.7 1350.9,1336.8 1339.1,1319.1 1324.3,1304.3 1309.6,1301.4 1280.0,1304.3" fill="#D95319"/><polyline points="1418.9,1273.3 1445.5,1279.2" fill="none" stroke="#7E2F8E" stroke-width="8.9" stroke-linecap="round" stroke-linejoin="round"/><polyline points="1445.5,1279.2 1484.0,1282.2" fill="none" stroke="#7E2F8E" stroke-width="8.9" stroke-linecap="round" stroke-linejoin="round"/><polyline points="1368.7,1301.4 1404.2,1304.3" fill="none" stroke="#7E2F8E" stroke-width="7.4" stroke-linecap="round" stroke-linejoin="round"/><polygon points="1519.5,1292.5 1534.2,1289.5 1540.1,1304.3 1522.4,1307.3" fill="#0072BD"/><circle cx="1540.1" cy="1333.9" r="7.4" fill="#0072BD"/><polygon points="1560.8,1363.4 1590.4,1348.7 1620.0,1354.6 1605.2,1363.4 1569.7,1372.3" fill="#0072BD"/><polyline points="1560.8,1369.3 1575.6,1351.6 1590.4,1336.8 1605.2,1325.0 1620.0,1316.1" fill="none" stroke="#0072BD" stroke-width="16.3" stroke-linecap="round" stroke-linejoin="round"/><circle cx="1520.9" cy="1183.1" r="8.9" fill="#7E2F8E"/><polygon points="1519.5,1215.7 1540.1,1206.8 1549.0,1212.7 1540.1,1227.5 1522.4,1227.5" fill="#7E2F8E"/><polygon points="1534.2,1242.3 1546.1,1236.3 1560.8,1242.3 1560.8,1257.0 1546.1,1262.9 1534.2,1257.0" fill="#7E2F8E"/><polygon points="1590.4,1242.3 1605.2,1227.5 1622.9,1224.5 1631.8,1233.4 1631.8,1251.1 1620.0,1265.9 1605.2,1277.7 1590.4,1289.5 1575.6,1289.5 1563.8,1283.6 1575.6,1265.9" fill="#D95319"/><polygon points="1554.9,1265.9 1575.6,1265.9 1605.2,1260.0 1628.8,1257.0 1631.8,1271.8 1611.1,1283.6 1590.4,1295.5 1575.6,1310.2 1554.9,1310.2 1546.1,1295.5" fill="#7E2F8E"/><polygon points="1584.5,1319.1 1605.2,1304.3 1634.7,1310.2 1658.4,1319.1 1679.1,1328.0 1708.7,1330.9 1738.2,1325.0 1767.8,1325.0 1800.0,1319.1 1800.0,1342.7 1767.8,1348.7 1758.9,1366.4 1741.2,1378.2 1723.4,1369.3 1708.7,1351.6 1688.0,1348.7 1670.2,1360.5 1658.4,1354.6 1634.7,1348.7 1611.1,1348.7 1593.4,1342.7" fill="#7E2F8E"/><polygon points="1640.7,1224.5 1652.5,1192.0 1661.4,1195.0 1658.4,1224.5 1673.2,1230.4 1711.6,1230.4 1711.6,1248.2 1699.8,1260.0 1693.9,1274.8 1723.4,1271.8 1729.3,1277.7 1717.5,1289.5 1753.0,1292.5 1782.6,1286.6 1800.0,1283.6 1800.0,1310.2 1782.6,1319.1 1753.0,1319.1 1723.4,1316.1 1708.7,1313.2 1688.0,1304.3 1673.2,1313.2 1652.5,1307.3 1634.7,1304.3 1620.0,1325.0 1611.1,1348.7 1602.2,1351.6 1605.2,1325.0 1620.0,1301.4 1634.7,1277.7 1640.7,1251.1" fill="#A2142F"/><polygon points="1685.0,1283.6 1699.8,1277.7 1708.7,1295.5 1723.4,1313.2 1747.1,1325.0 1744.1,1336.8 1723.4,1333.9 1705.7,1319.1 1688.0,1301.4" fill="#D95319"/><polygon points="1782.6,1339.8 1800.0,1336.8 1800.0,1360.5 1785.5,1354.6" fill="#D95319"/><circle cx="1538.7" cy="1082.6" r="8.3" fill="#A2142F"/><circle cx="1540.1" cy="1119.6" r="8.3" fill="#A2142F"/><circle cx="1540.1" cy="1156.5" r="8.3" fill="#A2142F"/><circle cx="1541.6" cy="1181.7" r="8.3" fill="#A2142F"/><circle cx="1541.6" cy="1211.2" r="8.3" fill="#A2142F"/><circle cx="1546.1" cy="1240.8" r="8.9" fill="#A2142F"/><polyline points="1546.1,1271.8 1547.5,1310.2 1550.5,1354.6 1554.9,1398.9 1560.8,1443.2 1572.7,1484.6 1584.5,1472.8 1593.4,1455.1" fill="none" stroke="#A2142F" stroke-width="16.3" stroke-linecap="round" stroke-linejoin="round"/><polyline points="1590.4,1428.5 1599.3,1407.8 1608.1,1387.1" fill="none" stroke="#A2142F" stroke-width="16.3" stroke-linecap="round" stroke-linejoin="round"/><polygon points="1741.2,1174.3 1756.0,1171.3 1764.8,1197.9 1776.6,1221.6 1788.5,1239.3 1800.0,1248.2 1800.0,1319.1 1788.5,1322.1 1782.6,1316.1 1794.4,1295.5 1782.6,1277.7 1767.8,1274.8 1764.8,1251.1 1756.0,1221.6 1747.1,1197.9" fill="#4DBEEE"/><circle cx="1285.9" cy="1345.7" r="10.3" fill="#EDB120"/><polygon points="1790.0,1248.2 1807.7,1239.3 1828.4,1251.1 1828.4,1271.8 1807.7,1271.8 1790.0,1265.9" fill="#4DBEEE"/><polygon points="1828.4,1262.9 1846.2,1224.5 1863.9,1209.7 1881.6,1189.0 1896.4,1177.2 1899.4,1171.3 1908.3,1171.3 1914.2,1206.8 1908.3,1224.5 1887.6,1248.2 1875.7,1268.9 1858.0,1277.7 1837.3,1277.7" fill="#0072BD"/><polygon points="1790.0,1292.5 1819.6,1289.5 1849.1,1283.6 1878.7,1280.7 1908.3,1280.7 1931.9,1271.8 1952.6,1268.9 1982.2,1271.8 2008.8,1283.6 2008.8,1295.5 1982.2,1295.5 1952.6,1292.5 1931.9,1295.5 1908.3,1313.2 1878.7,1322.1 1849.1,1325.0 1819.6,1325.0 1790.0,1325.0" fill="#4DBEEE"/><polygon points="1790.0,1313.2 1813.7,1310.2 1819.6,1283.6 1837.3,1277.7 1837.3,1301.4 1825.5,1322.1 1807.7,1333.9 1790.0,1336.8" fill="#7E2F8E"/><circle cx="1801.8" cy="1351.6" r="10.3" fill="#D95319"/><polygon points="1834.3,1289.5 1863.9,1286.6 1902.3,1286.6 1923.0,1283.6 1946.7,1286.6 1967.4,1295.5 1997.0,1295.5 2026.5,1295.5 2050.2,1286.6 2085.6,1280.7 2115.2,1286.6 2144.8,1292.5 2174.3,1295.5 2203.9,1292.5 2209.8,1251.1 2227.6,1242.3 2254.2,1239.3 2263.0,1248.2 2274.9,1265.9 2286.7,1283.6 2292.6,1304.3 2280.8,1304.3 2268.9,1295.5 2257.1,1271.8 2242.3,1260.0 2227.6,1265.9 2221.6,1289.5 2218.7,1313.2 2203.9,1319.1 2174.3,1325.0 2144.8,1325.0 2115.2,1325.0 2085.6,1325.0 2062.0,1328.0 2050.2,1342.7 2035.4,1348.7 2020.6,1342.7 2002.9,1342.7 1991.0,1333.9 1967.4,1325.0 1943.7,1322.1 1923.0,1330.9 1908.3,1336.8 1908.3,1351.6 1893.5,1354.6 1881.6,1342.7 1893.5,1330.9 1902.3,1313.2 1878.7,1313.2 1849.1,1310.2 1834.3,1307.3" fill="#A2142F"/><polyline points="2298.5,1333.9 2307.4,1348.7 2313.3,1363.4" fill="none" stroke="#A2142F" stroke-width="14.8" stroke-linecap="round" stroke-linejoin="round"/><polygon points="2014.7,1366.4 2041.3,1354.6 2064.9,1342.7 2085.6,1330.9 2115.2,1325.0 2144.8,1322.1 2174.3,1319.1 2203.9,1319.1 2221.6,1316.1 2221.6,1342.7 2203.9,1348.7 2174.3,1351.6 2144.8,1357.5 2130.0,1366.4 2100.4,1378.2 2070.9,1372.3 2041.3,1372.3 2020.6,1381.2 2014.7,1378.2" fill="#4DBEEE"/><polygon points="2064.9,1333.9 2085.6,1330.9 2127.0,1336.8 2124.1,1351.6 2085.6,1354.6 2064.9,1351.6" fill="#0072BD"/><polyline points="2144.8,1350.1 2189.1,1350.1" fill="none" stroke="#0072BD" stroke-width="5.9" stroke-linecap="round" stroke-linejoin="round"/><polygon points="2221.6,1271.8 2239.4,1271.8 2263.0,1283.6 2277.8,1289.5 2292.6,1283.6 2322.2,1292.5 2351.7,1304.3 2351.7,1354.6 2345.8,1354.6 2328.1,1339.8 2292.6,1328.0 2274.9,1322.1 2263.0,1310.2 2251.2,1319.1 2245.3,1310.2 2227.6,1304.3 2221.6,1295.5" fill="#4DBEEE"/><polyline points="2348.8,1342.7 2348.8,1431.4" fill="none" stroke="#4DBEEE" stroke-width="11.8" stroke-linecap="round" stroke-linejoin="round"/><polyline points="2020.6,1413.7 2008.8,1431.4 2002.9,1438.8" fill="none" stroke="#4DBEEE" stroke-width="14.8" stroke-linecap="round" stroke-linejoin="round"/><polygon points="2224.6,1292.5 2242.3,1289.5 2245.3,1307.3 2227.6,1307.3" fill="#0072BD"/><circle cx="2266.0" cy="1147.7" r="10.3" fill="#77AC30"/><polygon points="2263.0,1242.3 2280.8,1239.3 2289.6,1265.9 2286.7,1277.7 2274.9,1271.8 2266.0,1260.0" fill="#77AC30"/><polygon points="2230.5,1319.1 2251.2,1319.1 2257.1,1330.9 2233.5,1333.9" fill="#77AC30"/><polygon points="2248.2,1366.4 2263.0,1354.6 2286.7,1357.5 2298.5,1351.6 2310.3,1363.4 2304.4,1381.2 2292.6,1393.0 2286.7,1404.8 2277.8,1404.8 2271.9,1390.0 2251.2,1381.2 2245.3,1375.3" fill="#77AC30"/><circle cx="2317.7" cy="1336.8" r="8.9" fill="#77AC30"/><circle cx="2350.2" cy="1458.0" r="8.9" fill="#77AC30"/><polygon points="767.0,1250.0 785.2,1250.0 787.9,1291.9 806.1,1296.1 857.8,1290.5 883.0,1291.9 880.2,1305.9 899.7,1328.3 927.7,1328.3 955.6,1336.7 969.6,1347.8 983.6,1356.2 983.6,1373.0 955.6,1373.0 941.7,1361.8 913.7,1356.2 899.7,1353.4 871.8,1368.8 866.2,1375.8 850.8,1375.8 849.4,1389.8 835.5,1389.8 834.1,1414.9 821.5,1414.9 806.1,1403.7 801.9,1375.8 787.9,1364.6 785.2,1347.8 776.8,1340.8 768.4,1312.9" fill="#4DBEEE"/><polygon points="785.2,1250.0 801.9,1250.0 803.3,1261.2 813.1,1265.4 818.7,1278.0 818.7,1294.7 806.1,1296.1 789.3,1291.9" fill="#77AC30"/><polygon points="789.3,1273.8 813.1,1275.2 814.5,1291.9 789.3,1291.9" fill="#EDB120"/><polygon points="760.0,1271.0 767.0,1271.0 767.0,1289.1 760.0,1289.1" fill="#EDB120"/><polygon points="760.0,1296.1 768.4,1296.1 774.0,1312.9 781.0,1326.9 783.8,1342.2 774.0,1342.2 760.0,1333.9" fill="#7E2F8E"/><polygon points="806.1,1296.1 822.9,1284.9 839.7,1290.5 857.8,1289.1 866.2,1283.5 871.8,1268.2 920.7,1268.2 922.1,1279.4 934.7,1282.1 941.7,1286.3 941.7,1303.1 927.7,1305.9 913.7,1300.3 905.3,1303.1 899.7,1291.9 883.0,1291.9 857.8,1290.5 850.8,1291.9 838.3,1297.5 821.5,1298.9 806.1,1300.3" fill="#D95319"/><polygon points="807.5,1303.1 838.3,1298.9 852.2,1294.7 856.4,1308.7 843.8,1315.7 829.9,1319.9 822.9,1326.9 807.5,1328.3" fill="#EDB120"/><polygon points="855.0,1310.1 871.8,1308.7 885.8,1298.9 906.7,1300.3 913.7,1296.1 938.9,1286.3 955.6,1287.7 986.4,1286.3 989.2,1276.6 1000.3,1268.2 1019.9,1268.2 1025.5,1284.9 1033.9,1296.1 1053.4,1297.5 1053.4,1319.9 1039.5,1319.9 1025.5,1312.9 1011.5,1312.9 997.6,1308.7 983.6,1310.1 962.6,1305.9 941.7,1303.1 927.7,1305.9 906.7,1303.1 892.8,1308.7 885.8,1314.3 871.8,1317.1 857.8,1315.7" fill="#A2142F"/><polygon points="821.5,1319.9 838.3,1317.1 843.8,1319.9 857.8,1311.5 878.8,1305.9 899.7,1307.3 908.1,1312.9 908.1,1325.5 885.8,1328.3 874.6,1333.9 866.2,1345.0 857.8,1347.8 849.4,1356.2 841.0,1353.4 838.3,1336.7 832.7,1328.3 824.3,1325.5" fill="#7E2F8E"/><polygon points="908.1,1303.1 927.7,1305.9 948.6,1303.1 969.6,1308.7 997.6,1308.7 1018.5,1310.1 1039.5,1319.9 1053.4,1319.9 1053.4,1331.1 1039.5,1336.7 1025.5,1335.3 1017.1,1336.7 1011.5,1333.9 997.6,1336.7 983.6,1339.4 976.6,1328.3 962.6,1322.7 948.6,1311.5 934.7,1310.1 913.7,1308.7" fill="#D95319"/><polygon points="905.3,1305.9 920.7,1307.3 941.7,1312.9 955.6,1322.7 969.6,1333.9 976.6,1340.8 990.6,1347.8 1011.5,1347.8 1025.5,1345.0 1047.9,1342.2 1047.9,1356.2 1032.5,1361.8 1018.5,1364.6 997.6,1364.6 983.6,1360.4 969.6,1353.4 955.6,1345.0 941.7,1336.7 920.7,1329.7 908.1,1322.7" fill="#EDB120"/><polygon points="969.6,1336.7 990.6,1336.7 1011.5,1333.9 1018.5,1336.7 1015.7,1347.8 990.6,1347.8 976.6,1343.6" fill="#4DBEEE"/><polygon points="1018.5,1328.3 1032.5,1326.9 1046.5,1333.9 1047.9,1347.8 1039.5,1350.6 1025.5,1347.8 1019.9,1339.4" fill="#A2142F"/><polygon points="1036.7,1359.0 1049.3,1360.4 1049.3,1373.0 1038.1,1373.0" fill="#A2142F"/><polygon points="883.0,1356.2 899.7,1353.4 916.5,1353.4 913.7,1361.8 905.3,1371.6 901.1,1387.0 899.7,1398.1 890.0,1398.1 884.4,1389.8 883.0,1370.2" fill="#77AC30"/><polygon points="913.7,1356.2 936.1,1353.4 941.7,1361.8 948.6,1373.0 989.2,1370.2 989.2,1387.0 983.6,1395.4 969.6,1395.4 958.4,1392.6 955.6,1406.5 940.3,1409.3 934.7,1396.8 930.5,1375.8 913.7,1373.0" fill="#EDB120"/><polygon points="1008.7,1368.8 1025.5,1366.0 1045.1,1368.8 1043.7,1382.8 1033.9,1389.8 1022.7,1392.6 1015.7,1389.8 1011.5,1380.0" fill="#7E2F8E"/><polygon points="989.2,1250.0 1011.5,1250.0 1012.9,1264.0 1004.5,1272.4 997.6,1266.8 994.8,1257.0" fill="#7E2F8E"/><polygon points="1056.2,1250.0 1067.4,1250.0 1068.8,1278.0 1075.8,1291.9 1080.0,1291.9 1080.0,1389.8 1067.4,1389.8 1064.6,1347.8 1061.8,1312.9 1059.0,1284.9 1054.8,1264.0" fill="#D95319"/><polygon points="1042.3,1272.4 1053.4,1271.0 1057.6,1278.0 1057.6,1294.7 1047.9,1296.1 1042.3,1284.9" fill="#EDB120"/><polygon points="2060.0,1330.5 2092.0,1328.9 2128.8,1328.9 2132.0,1340.1 2124.0,1349.7 2100.0,1356.1 2076.0,1352.9 2060.0,1352.9" fill="#0072BD"/><polygon points="2143.2,1344.9 2172.1,1343.3 2192.9,1344.9 2192.9,1352.9 2172.1,1354.5 2143.2,1352.9" fill="#0072BD"/></g>
<text x="251" y="1083.7" text-anchor="end" class="tk">0.4</text>
<text x="251" y="1203.2" text-anchor="end" class="tk">0.2</text>
<text x="251" y="1322.3" text-anchor="end" class="tk">0</text>
<text x="251" y="1438.3" text-anchor="end" class="tk"><tspan>−</tspan><tspan dx="4">0.2</tspan></text>
<text x="251" y="1557.7" text-anchor="end" class="tk"><tspan>−</tspan><tspan dx="4">0.4</tspan></text>
<text x="268.0" y="1604" text-anchor="middle" class="tk">3</text>
<text x="565.4" y="1604" text-anchor="middle" class="tk">6</text>
<text x="862.8" y="1604" text-anchor="middle" class="tk">9</text>
<text x="1160.3" y="1604" text-anchor="middle" class="tk">12</text>
<text x="1457.7" y="1604" text-anchor="middle" class="tk">15</text>
<text x="1755.1" y="1604" text-anchor="middle" class="tk">18</text>
<text x="2052.5" y="1604" text-anchor="middle" class="tk">21</text>
<text x="2349.9" y="1604" text-anchor="middle" class="tk">24</text>
<text x="1309" y="1673.5" text-anchor="middle" class="lb">Time [hour]</text>
<text transform="translate(66 794) rotate(-90)" x="0" y="0" text-anchor="middle" class="lb yl">Single-differenced Slant Ionospheric Delay Errors [m]</text>
<text x="318" y="96.7" class="pa">(a)</text>
<text x="564" y="123.0" class="pl">GPS</text>
<text x="564" y="632.9" class="pl">Galileo</text>
<text x="564" y="1142.8" class="pl">BDS</text>
</svg>
</body></html>
